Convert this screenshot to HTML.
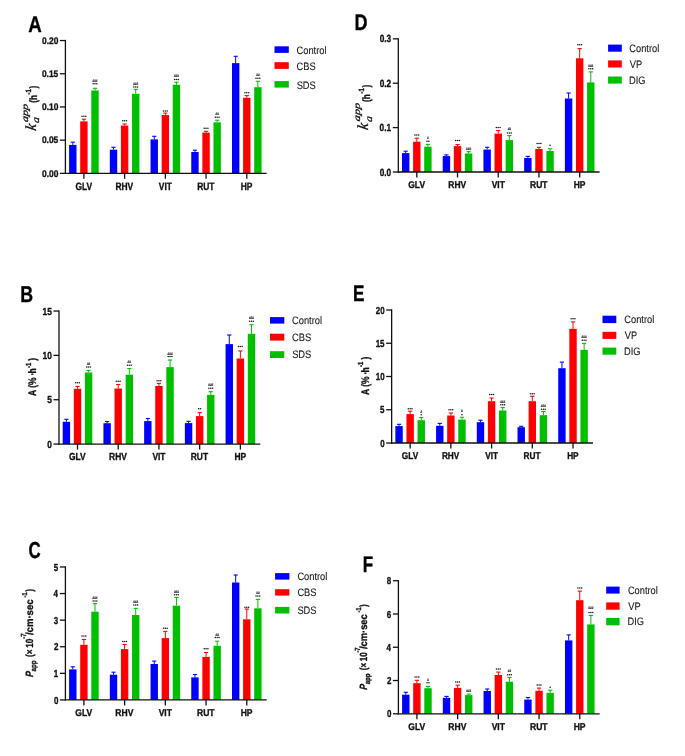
<!DOCTYPE html>
<html><head><meta charset="utf-8"><title>Figure</title><style>html,body{margin:0;padding:0;background:#fff;}body{width:685px;height:756px;overflow:hidden;font-family:"Liberation Sans",sans-serif;}svg{display:block;}</style></head><body>
<svg style="will-change:transform;filter:blur(0.3px)" width="685" height="756" viewBox="0 0 685 756"><rect width="685" height="756" fill="#fff"/>
<text transform="translate(28.28 31.85) scale(0.83 1)" font-family='"Liberation Sans", sans-serif' font-size="22.55" font-weight="bold" font-style="normal" fill="#000" stroke="#000" stroke-width="0.35" stroke-linejoin="round" text-rendering="geometricPrecision">A</text>
<rect x="69.1" y="144.9" width="7.4" height="28.45" fill="#0000ff"/>
<line x1="72.8" y1="144.9" x2="72.8" y2="142.2" stroke="#0000ff" stroke-width="1"/>
<line x1="70.7" y1="142.2" x2="74.9" y2="142.2" stroke="#0000ff" stroke-width="1.1"/>
<rect x="80.2" y="121.4" width="7.4" height="51.95" fill="#ff0000"/>
<line x1="83.9" y1="121.4" x2="83.9" y2="119.2" stroke="#ff0000" stroke-width="1"/>
<line x1="81.8" y1="119.2" x2="86" y2="119.2" stroke="#ff0000" stroke-width="1.1"/>
<ellipse cx="82.05" cy="116.25" rx="0.8" ry="0.75" fill="#1a1a1a"/>
<ellipse cx="83.9" cy="116.25" rx="0.8" ry="0.75" fill="#1a1a1a"/>
<ellipse cx="85.75" cy="116.25" rx="0.8" ry="0.75" fill="#1a1a1a"/>
<rect x="91.3" y="90.5" width="7.4" height="82.85" fill="#00bf00"/>
<line x1="95" y1="90.5" x2="95" y2="88.3" stroke="#00bf00" stroke-width="1"/>
<line x1="92.9" y1="88.3" x2="97.1" y2="88.3" stroke="#00bf00" stroke-width="1.1"/>
<ellipse cx="93.15" cy="83.75" rx="0.8" ry="0.75" fill="#1a1a1a"/>
<ellipse cx="95" cy="83.75" rx="0.8" ry="0.75" fill="#1a1a1a"/>
<ellipse cx="96.85" cy="83.75" rx="0.8" ry="0.75" fill="#1a1a1a"/>
<text transform="translate(92.44 81.52) scale(0.85 1)" font-family='"Liberation Sans", sans-serif' font-size="3.6" font-weight="bold" font-style="normal" fill="#3a3a3a" stroke="#3a3a3a" stroke-width="0.2" text-rendering="geometricPrecision">###</text>
<rect x="109.82" y="149.7" width="7.4" height="23.65" fill="#0000ff"/>
<line x1="113.52" y1="149.7" x2="113.52" y2="147.3" stroke="#0000ff" stroke-width="1"/>
<line x1="111.42" y1="147.3" x2="115.62" y2="147.3" stroke="#0000ff" stroke-width="1.1"/>
<rect x="120.92" y="125.6" width="7.4" height="47.75" fill="#ff0000"/>
<line x1="124.62" y1="125.6" x2="124.62" y2="124" stroke="#ff0000" stroke-width="1"/>
<line x1="122.52" y1="124" x2="126.72" y2="124" stroke="#ff0000" stroke-width="1.1"/>
<ellipse cx="122.77" cy="120.85" rx="0.8" ry="0.75" fill="#1a1a1a"/>
<ellipse cx="124.62" cy="120.85" rx="0.8" ry="0.75" fill="#1a1a1a"/>
<ellipse cx="126.47" cy="120.85" rx="0.8" ry="0.75" fill="#1a1a1a"/>
<rect x="132.02" y="93.8" width="7.4" height="79.55" fill="#00bf00"/>
<line x1="135.72" y1="93.8" x2="135.72" y2="89.4" stroke="#00bf00" stroke-width="1"/>
<line x1="133.62" y1="89.4" x2="137.82" y2="89.4" stroke="#00bf00" stroke-width="1.1"/>
<ellipse cx="133.87" cy="86.95" rx="0.8" ry="0.75" fill="#1a1a1a"/>
<ellipse cx="135.72" cy="86.95" rx="0.8" ry="0.75" fill="#1a1a1a"/>
<ellipse cx="137.57" cy="86.95" rx="0.8" ry="0.75" fill="#1a1a1a"/>
<text transform="translate(133.16 85.02) scale(0.85 1)" font-family='"Liberation Sans", sans-serif' font-size="3.6" font-weight="bold" font-style="normal" fill="#3a3a3a" stroke="#3a3a3a" stroke-width="0.2" text-rendering="geometricPrecision">###</text>
<rect x="150.54" y="139.4" width="7.4" height="33.95" fill="#0000ff"/>
<line x1="154.24" y1="139.4" x2="154.24" y2="136.3" stroke="#0000ff" stroke-width="1"/>
<line x1="152.14" y1="136.3" x2="156.34" y2="136.3" stroke="#0000ff" stroke-width="1.1"/>
<rect x="161.64" y="115" width="7.4" height="58.35" fill="#ff0000"/>
<line x1="165.34" y1="115" x2="165.34" y2="113.1" stroke="#ff0000" stroke-width="1"/>
<line x1="163.24" y1="113.1" x2="167.44" y2="113.1" stroke="#ff0000" stroke-width="1.1"/>
<ellipse cx="163.49" cy="110.95" rx="0.8" ry="0.75" fill="#1a1a1a"/>
<ellipse cx="165.34" cy="110.95" rx="0.8" ry="0.75" fill="#1a1a1a"/>
<ellipse cx="167.19" cy="110.95" rx="0.8" ry="0.75" fill="#1a1a1a"/>
<rect x="172.74" y="84.8" width="7.4" height="88.55" fill="#00bf00"/>
<line x1="176.44" y1="84.8" x2="176.44" y2="82.2" stroke="#00bf00" stroke-width="1"/>
<line x1="174.34" y1="82.2" x2="178.54" y2="82.2" stroke="#00bf00" stroke-width="1.1"/>
<ellipse cx="174.59" cy="79.55" rx="0.8" ry="0.75" fill="#1a1a1a"/>
<ellipse cx="176.44" cy="79.55" rx="0.8" ry="0.75" fill="#1a1a1a"/>
<ellipse cx="178.29" cy="79.55" rx="0.8" ry="0.75" fill="#1a1a1a"/>
<text transform="translate(173.88 76.82) scale(0.85 1)" font-family='"Liberation Sans", sans-serif' font-size="3.6" font-weight="bold" font-style="normal" fill="#3a3a3a" stroke="#3a3a3a" stroke-width="0.2" text-rendering="geometricPrecision">###</text>
<rect x="191.26" y="152" width="7.4" height="21.35" fill="#0000ff"/>
<line x1="194.96" y1="152" x2="194.96" y2="150.2" stroke="#0000ff" stroke-width="1"/>
<line x1="192.86" y1="150.2" x2="197.06" y2="150.2" stroke="#0000ff" stroke-width="1.1"/>
<rect x="202.36" y="132.6" width="7.4" height="40.75" fill="#ff0000"/>
<line x1="206.06" y1="132.6" x2="206.06" y2="131.3" stroke="#ff0000" stroke-width="1"/>
<line x1="203.96" y1="131.3" x2="208.16" y2="131.3" stroke="#ff0000" stroke-width="1.1"/>
<ellipse cx="204.21" cy="128.25" rx="0.8" ry="0.75" fill="#1a1a1a"/>
<ellipse cx="206.06" cy="128.25" rx="0.8" ry="0.75" fill="#1a1a1a"/>
<ellipse cx="207.91" cy="128.25" rx="0.8" ry="0.75" fill="#1a1a1a"/>
<rect x="213.46" y="122.4" width="7.4" height="50.95" fill="#00bf00"/>
<line x1="217.16" y1="122.4" x2="217.16" y2="120.2" stroke="#00bf00" stroke-width="1"/>
<line x1="215.06" y1="120.2" x2="219.26" y2="120.2" stroke="#00bf00" stroke-width="1.1"/>
<ellipse cx="215.31" cy="117.15" rx="0.8" ry="0.75" fill="#1a1a1a"/>
<ellipse cx="217.16" cy="117.15" rx="0.8" ry="0.75" fill="#1a1a1a"/>
<ellipse cx="219.01" cy="117.15" rx="0.8" ry="0.75" fill="#1a1a1a"/>
<text transform="translate(215.46 115.12) scale(0.85 1)" font-family='"Liberation Sans", sans-serif' font-size="3.6" font-weight="bold" font-style="normal" fill="#3a3a3a" stroke="#3a3a3a" stroke-width="0.2" text-rendering="geometricPrecision">##</text>
<rect x="231.98" y="63.1" width="7.4" height="110.25" fill="#0000ff"/>
<line x1="235.68" y1="63.1" x2="235.68" y2="56.3" stroke="#0000ff" stroke-width="1"/>
<line x1="233.58" y1="56.3" x2="237.78" y2="56.3" stroke="#0000ff" stroke-width="1.1"/>
<rect x="243.08" y="97.8" width="7.4" height="75.55" fill="#ff0000"/>
<line x1="246.78" y1="97.8" x2="246.78" y2="95.6" stroke="#ff0000" stroke-width="1"/>
<line x1="244.68" y1="95.6" x2="248.88" y2="95.6" stroke="#ff0000" stroke-width="1.1"/>
<ellipse cx="244.93" cy="92.65" rx="0.8" ry="0.75" fill="#1a1a1a"/>
<ellipse cx="246.78" cy="92.65" rx="0.8" ry="0.75" fill="#1a1a1a"/>
<ellipse cx="248.63" cy="92.65" rx="0.8" ry="0.75" fill="#1a1a1a"/>
<rect x="254.18" y="87.2" width="7.4" height="86.15" fill="#00bf00"/>
<line x1="257.88" y1="87.2" x2="257.88" y2="81.3" stroke="#00bf00" stroke-width="1"/>
<line x1="255.78" y1="81.3" x2="259.98" y2="81.3" stroke="#00bf00" stroke-width="1.1"/>
<ellipse cx="256.03" cy="78.25" rx="0.8" ry="0.75" fill="#1a1a1a"/>
<ellipse cx="257.88" cy="78.25" rx="0.8" ry="0.75" fill="#1a1a1a"/>
<ellipse cx="259.73" cy="78.25" rx="0.8" ry="0.75" fill="#1a1a1a"/>
<text transform="translate(256.18 76.32) scale(0.85 1)" font-family='"Liberation Sans", sans-serif' font-size="3.6" font-weight="bold" font-style="normal" fill="#3a3a3a" stroke="#3a3a3a" stroke-width="0.2" text-rendering="geometricPrecision">##</text>
<line x1="65.4" y1="39.89" x2="65.4" y2="174" stroke="#111111" stroke-width="1.3"/>
<line x1="64.75" y1="173.35" x2="266.7" y2="173.35" stroke="#111111" stroke-width="1.3"/>
<line x1="59.9" y1="173.35" x2="65.4" y2="173.35" stroke="#111111" stroke-width="1.3"/>
<text transform="translate(41.99 176.69) scale(0.88 1)" font-family='"Liberation Sans", sans-serif' font-size="9.55" font-weight="bold" font-style="normal" fill="#111111" stroke="#111111" stroke-width="0.35" stroke-linejoin="round" text-rendering="geometricPrecision">0.00</text>
<line x1="59.9" y1="140.15" x2="65.4" y2="140.15" stroke="#111111" stroke-width="1.3"/>
<text transform="translate(41.89 143.49) scale(0.88 1)" font-family='"Liberation Sans", sans-serif' font-size="9.55" font-weight="bold" font-style="normal" fill="#111111" stroke="#111111" stroke-width="0.35" stroke-linejoin="round" text-rendering="geometricPrecision">0.05</text>
<line x1="59.9" y1="106.94" x2="65.4" y2="106.94" stroke="#111111" stroke-width="1.3"/>
<text transform="translate(41.99 110.29) scale(0.88 1)" font-family='"Liberation Sans", sans-serif' font-size="9.55" font-weight="bold" font-style="normal" fill="#111111" stroke="#111111" stroke-width="0.35" stroke-linejoin="round" text-rendering="geometricPrecision">0.10</text>
<line x1="59.9" y1="73.74" x2="65.4" y2="73.74" stroke="#111111" stroke-width="1.3"/>
<text transform="translate(41.89 77.08) scale(0.88 1)" font-family='"Liberation Sans", sans-serif' font-size="9.55" font-weight="bold" font-style="normal" fill="#111111" stroke="#111111" stroke-width="0.35" stroke-linejoin="round" text-rendering="geometricPrecision">0.15</text>
<line x1="59.9" y1="40.54" x2="65.4" y2="40.54" stroke="#111111" stroke-width="1.3"/>
<text transform="translate(41.99 43.88) scale(0.88 1)" font-family='"Liberation Sans", sans-serif' font-size="9.55" font-weight="bold" font-style="normal" fill="#111111" stroke="#111111" stroke-width="0.35" stroke-linejoin="round" text-rendering="geometricPrecision">0.20</text>
<line x1="83.9" y1="173.35" x2="83.9" y2="178.85" stroke="#111111" stroke-width="1.3"/>
<text transform="translate(75.39 189.67) scale(0.79 1)" font-family='"Liberation Sans", sans-serif' font-size="10.67" font-weight="bold" font-style="normal" fill="#111111" stroke="#111111" stroke-width="0.35" stroke-linejoin="round" text-rendering="geometricPrecision">GLV</text>
<line x1="124.62" y1="173.35" x2="124.62" y2="178.85" stroke="#111111" stroke-width="1.3"/>
<text transform="translate(115.44 189.67) scale(0.79 1)" font-family='"Liberation Sans", sans-serif' font-size="10.67" font-weight="bold" font-style="normal" fill="#111111" stroke="#111111" stroke-width="0.35" stroke-linejoin="round" text-rendering="geometricPrecision">RHV</text>
<line x1="165.34" y1="173.35" x2="165.34" y2="178.85" stroke="#111111" stroke-width="1.3"/>
<text transform="translate(158.78 189.67) scale(0.79 1)" font-family='"Liberation Sans", sans-serif' font-size="10.67" font-weight="bold" font-style="normal" fill="#111111" stroke="#111111" stroke-width="0.35" stroke-linejoin="round" text-rendering="geometricPrecision">VIT</text>
<line x1="206.06" y1="173.35" x2="206.06" y2="178.85" stroke="#111111" stroke-width="1.3"/>
<text transform="translate(197.13 189.67) scale(0.79 1)" font-family='"Liberation Sans", sans-serif' font-size="10.67" font-weight="bold" font-style="normal" fill="#111111" stroke="#111111" stroke-width="0.35" stroke-linejoin="round" text-rendering="geometricPrecision">RUT</text>
<line x1="246.78" y1="173.35" x2="246.78" y2="178.85" stroke="#111111" stroke-width="1.3"/>
<text transform="translate(240.77 189.67) scale(0.79 1)" font-family='"Liberation Sans", sans-serif' font-size="10.67" font-weight="bold" font-style="normal" fill="#111111" stroke="#111111" stroke-width="0.35" stroke-linejoin="round" text-rendering="geometricPrecision">HP</text>
<rect x="274.5" y="46.3" width="14.3" height="6.6" fill="#0000ff"/>
<text transform="translate(296.59 53.79) scale(0.86 1)" font-family='"Liberation Sans", sans-serif' font-size="10.8" font-weight="normal" font-style="normal" fill="#1a1a1a" stroke="#1a1a1a" stroke-width="0.12" text-rendering="geometricPrecision">Control</text>
<rect x="274.5" y="62.2" width="14.3" height="6.7" fill="#ff0000"/>
<text transform="translate(296.59 69.74) scale(0.86 1)" font-family='"Liberation Sans", sans-serif' font-size="10.8" font-weight="normal" font-style="normal" fill="#1a1a1a" stroke="#1a1a1a" stroke-width="0.12" text-rendering="geometricPrecision">CBS</text>
<rect x="274.5" y="81.1" width="14.3" height="6.5" fill="#00bf00"/>
<text transform="translate(296.63 88.54) scale(0.86 1)" font-family='"Liberation Sans", sans-serif' font-size="10.8" font-weight="normal" font-style="normal" fill="#1a1a1a" stroke="#1a1a1a" stroke-width="0.12" text-rendering="geometricPrecision">SDS</text>
<g><text transform="translate(35.7 131.36) rotate(-90) skewX(-10)" font-family='"Liberation Serif", serif' font-size="15.3" font-weight="normal" font-style="italic" fill="#111111" stroke="#111111" stroke-width="0.3" text-rendering="geometricPrecision">k</text>
<text transform="translate(38.9 123.15) rotate(-90) scale(1.2 1) skewX(-8)" font-family='"Liberation Serif", serif' font-size="9.6" font-weight="normal" font-style="italic" fill="#111111" stroke="#111111" stroke-width="0.3" text-rendering="geometricPrecision">a</text>
<text transform="translate(27.6 122.56) rotate(-90) scale(1.32 1) skewX(-8)" font-family='"Liberation Serif", serif' font-size="9.2" font-weight="normal" font-style="italic" fill="#111111" stroke="#111111" stroke-width="0.3" text-rendering="geometricPrecision">app</text>
<text transform="translate(36.9 102.81) rotate(-90) scale(0.75 1)" font-family='"Liberation Sans", sans-serif' font-size="10.8" font-weight="bold" font-style="normal" fill="#111111" stroke="#111111" stroke-width="0.35" stroke-linejoin="round" text-rendering="geometricPrecision">(h</text>
<text transform="translate(30.9 94.44) rotate(-90) scale(0.8 1)" font-family='"Liberation Sans", sans-serif' font-size="7.6" font-weight="bold" font-style="normal" fill="#111111" stroke="#111111" stroke-width="0.35" stroke-linejoin="round" text-rendering="geometricPrecision">-1</text>
<text transform="translate(36.9 88.42) rotate(-90) scale(0.75 1)" font-family='"Liberation Sans", sans-serif' font-size="10.8" font-weight="bold" font-style="normal" fill="#111111" stroke="#111111" stroke-width="0.35" stroke-linejoin="round" text-rendering="geometricPrecision">)</text></g>
<text transform="translate(20.24 302.31) scale(0.78 1)" font-family='"Liberation Sans", sans-serif' font-size="22.85" font-weight="bold" font-style="normal" fill="#000" stroke="#000" stroke-width="0.35" stroke-linejoin="round" text-rendering="geometricPrecision">B</text>
<rect x="62.7" y="421.8" width="7.4" height="22.25" fill="#0000ff"/>
<line x1="66.4" y1="421.8" x2="66.4" y2="419.3" stroke="#0000ff" stroke-width="1"/>
<line x1="64.3" y1="419.3" x2="68.5" y2="419.3" stroke="#0000ff" stroke-width="1.1"/>
<rect x="73.8" y="388.8" width="7.4" height="55.25" fill="#ff0000"/>
<line x1="77.5" y1="388.8" x2="77.5" y2="386.4" stroke="#ff0000" stroke-width="1"/>
<line x1="75.4" y1="386.4" x2="79.6" y2="386.4" stroke="#ff0000" stroke-width="1.1"/>
<ellipse cx="75.65" cy="382.75" rx="0.8" ry="0.75" fill="#1a1a1a"/>
<ellipse cx="77.5" cy="382.75" rx="0.8" ry="0.75" fill="#1a1a1a"/>
<ellipse cx="79.35" cy="382.75" rx="0.8" ry="0.75" fill="#1a1a1a"/>
<rect x="84.9" y="372.5" width="7.4" height="71.55" fill="#00bf00"/>
<line x1="88.6" y1="372.5" x2="88.6" y2="370.4" stroke="#00bf00" stroke-width="1"/>
<line x1="86.5" y1="370.4" x2="90.7" y2="370.4" stroke="#00bf00" stroke-width="1.1"/>
<ellipse cx="86.75" cy="367.05" rx="0.8" ry="0.75" fill="#1a1a1a"/>
<ellipse cx="88.6" cy="367.05" rx="0.8" ry="0.75" fill="#1a1a1a"/>
<ellipse cx="90.45" cy="367.05" rx="0.8" ry="0.75" fill="#1a1a1a"/>
<text transform="translate(86.9 364.72) scale(0.85 1)" font-family='"Liberation Sans", sans-serif' font-size="3.6" font-weight="bold" font-style="normal" fill="#3a3a3a" stroke="#3a3a3a" stroke-width="0.2" text-rendering="geometricPrecision">##</text>
<rect x="103.42" y="423.2" width="7.4" height="20.85" fill="#0000ff"/>
<line x1="107.12" y1="423.2" x2="107.12" y2="421.5" stroke="#0000ff" stroke-width="1"/>
<line x1="105.02" y1="421.5" x2="109.22" y2="421.5" stroke="#0000ff" stroke-width="1.1"/>
<rect x="114.52" y="388.5" width="7.4" height="55.55" fill="#ff0000"/>
<line x1="118.22" y1="388.5" x2="118.22" y2="384.5" stroke="#ff0000" stroke-width="1"/>
<line x1="116.12" y1="384.5" x2="120.32" y2="384.5" stroke="#ff0000" stroke-width="1.1"/>
<ellipse cx="116.37" cy="381.35" rx="0.8" ry="0.75" fill="#1a1a1a"/>
<ellipse cx="118.22" cy="381.35" rx="0.8" ry="0.75" fill="#1a1a1a"/>
<ellipse cx="120.07" cy="381.35" rx="0.8" ry="0.75" fill="#1a1a1a"/>
<rect x="125.62" y="374.7" width="7.4" height="69.35" fill="#00bf00"/>
<line x1="129.32" y1="374.7" x2="129.32" y2="368.5" stroke="#00bf00" stroke-width="1"/>
<line x1="127.22" y1="368.5" x2="131.42" y2="368.5" stroke="#00bf00" stroke-width="1.1"/>
<ellipse cx="127.47" cy="365.35" rx="0.8" ry="0.75" fill="#1a1a1a"/>
<ellipse cx="129.32" cy="365.35" rx="0.8" ry="0.75" fill="#1a1a1a"/>
<ellipse cx="131.17" cy="365.35" rx="0.8" ry="0.75" fill="#1a1a1a"/>
<text transform="translate(127.62 363.32) scale(0.85 1)" font-family='"Liberation Sans", sans-serif' font-size="3.6" font-weight="bold" font-style="normal" fill="#3a3a3a" stroke="#3a3a3a" stroke-width="0.2" text-rendering="geometricPrecision">##</text>
<rect x="144.14" y="421.1" width="7.4" height="22.95" fill="#0000ff"/>
<line x1="147.84" y1="421.1" x2="147.84" y2="418.5" stroke="#0000ff" stroke-width="1"/>
<line x1="145.74" y1="418.5" x2="149.94" y2="418.5" stroke="#0000ff" stroke-width="1.1"/>
<rect x="155.24" y="386" width="7.4" height="58.05" fill="#ff0000"/>
<line x1="158.94" y1="386" x2="158.94" y2="383.4" stroke="#ff0000" stroke-width="1"/>
<line x1="156.84" y1="383.4" x2="161.04" y2="383.4" stroke="#ff0000" stroke-width="1.1"/>
<ellipse cx="157.09" cy="380.65" rx="0.8" ry="0.75" fill="#1a1a1a"/>
<ellipse cx="158.94" cy="380.65" rx="0.8" ry="0.75" fill="#1a1a1a"/>
<ellipse cx="160.79" cy="380.65" rx="0.8" ry="0.75" fill="#1a1a1a"/>
<rect x="166.34" y="367.1" width="7.4" height="76.95" fill="#00bf00"/>
<line x1="170.04" y1="367.1" x2="170.04" y2="360" stroke="#00bf00" stroke-width="1"/>
<line x1="167.94" y1="360" x2="172.14" y2="360" stroke="#00bf00" stroke-width="1.1"/>
<ellipse cx="168.19" cy="356.45" rx="0.8" ry="0.75" fill="#1a1a1a"/>
<ellipse cx="170.04" cy="356.45" rx="0.8" ry="0.75" fill="#1a1a1a"/>
<ellipse cx="171.89" cy="356.45" rx="0.8" ry="0.75" fill="#1a1a1a"/>
<text transform="translate(167.48 354.62) scale(0.85 1)" font-family='"Liberation Sans", sans-serif' font-size="3.6" font-weight="bold" font-style="normal" fill="#3a3a3a" stroke="#3a3a3a" stroke-width="0.2" text-rendering="geometricPrecision">###</text>
<rect x="184.86" y="423.1" width="7.4" height="20.95" fill="#0000ff"/>
<line x1="188.56" y1="423.1" x2="188.56" y2="421.3" stroke="#0000ff" stroke-width="1"/>
<line x1="186.46" y1="421.3" x2="190.66" y2="421.3" stroke="#0000ff" stroke-width="1.1"/>
<rect x="195.96" y="416.1" width="7.4" height="27.95" fill="#ff0000"/>
<line x1="199.66" y1="416.1" x2="199.66" y2="412.6" stroke="#ff0000" stroke-width="1"/>
<line x1="197.56" y1="412.6" x2="201.76" y2="412.6" stroke="#ff0000" stroke-width="1.1"/>
<ellipse cx="198.73" cy="408.85" rx="0.8" ry="0.75" fill="#1a1a1a"/>
<ellipse cx="200.59" cy="408.85" rx="0.8" ry="0.75" fill="#1a1a1a"/>
<rect x="207.06" y="394.9" width="7.4" height="49.15" fill="#00bf00"/>
<line x1="210.76" y1="394.9" x2="210.76" y2="391.7" stroke="#00bf00" stroke-width="1"/>
<line x1="208.66" y1="391.7" x2="212.86" y2="391.7" stroke="#00bf00" stroke-width="1.1"/>
<ellipse cx="208.91" cy="388.25" rx="0.8" ry="0.75" fill="#1a1a1a"/>
<ellipse cx="210.76" cy="388.25" rx="0.8" ry="0.75" fill="#1a1a1a"/>
<ellipse cx="212.61" cy="388.25" rx="0.8" ry="0.75" fill="#1a1a1a"/>
<text transform="translate(208.2 386.42) scale(0.85 1)" font-family='"Liberation Sans", sans-serif' font-size="3.6" font-weight="bold" font-style="normal" fill="#3a3a3a" stroke="#3a3a3a" stroke-width="0.2" text-rendering="geometricPrecision">###</text>
<rect x="225.58" y="344.1" width="7.4" height="99.95" fill="#0000ff"/>
<line x1="229.28" y1="344.1" x2="229.28" y2="335" stroke="#0000ff" stroke-width="1"/>
<line x1="227.18" y1="335" x2="231.38" y2="335" stroke="#0000ff" stroke-width="1.1"/>
<rect x="236.68" y="358.5" width="7.4" height="85.55" fill="#ff0000"/>
<line x1="240.38" y1="358.5" x2="240.38" y2="351" stroke="#ff0000" stroke-width="1"/>
<line x1="238.28" y1="351" x2="242.48" y2="351" stroke="#ff0000" stroke-width="1.1"/>
<ellipse cx="238.53" cy="346.55" rx="0.8" ry="0.75" fill="#1a1a1a"/>
<ellipse cx="240.38" cy="346.55" rx="0.8" ry="0.75" fill="#1a1a1a"/>
<ellipse cx="242.23" cy="346.55" rx="0.8" ry="0.75" fill="#1a1a1a"/>
<rect x="247.78" y="333.8" width="7.4" height="110.25" fill="#00bf00"/>
<line x1="251.48" y1="333.8" x2="251.48" y2="324.7" stroke="#00bf00" stroke-width="1"/>
<line x1="249.38" y1="324.7" x2="253.58" y2="324.7" stroke="#00bf00" stroke-width="1.1"/>
<ellipse cx="249.63" cy="321.25" rx="0.8" ry="0.75" fill="#1a1a1a"/>
<ellipse cx="251.48" cy="321.25" rx="0.8" ry="0.75" fill="#1a1a1a"/>
<ellipse cx="253.33" cy="321.25" rx="0.8" ry="0.75" fill="#1a1a1a"/>
<text transform="translate(248.92 318.92) scale(0.85 1)" font-family='"Liberation Sans", sans-serif' font-size="3.6" font-weight="bold" font-style="normal" fill="#3a3a3a" stroke="#3a3a3a" stroke-width="0.2" text-rendering="geometricPrecision">###</text>
<line x1="59" y1="310.4" x2="59" y2="444.7" stroke="#111111" stroke-width="1.3"/>
<line x1="58.35" y1="444.05" x2="260.3" y2="444.05" stroke="#111111" stroke-width="1.3"/>
<line x1="53.5" y1="444.05" x2="59" y2="444.05" stroke="#111111" stroke-width="1.3"/>
<text transform="translate(47.27 447.64) scale(0.82 1)" font-family='"Liberation Sans", sans-serif' font-size="10.25" font-weight="bold" font-style="normal" fill="#111111" stroke="#111111" stroke-width="0.35" stroke-linejoin="round" text-rendering="geometricPrecision">0</text>
<line x1="53.5" y1="399.72" x2="59" y2="399.72" stroke="#111111" stroke-width="1.3"/>
<text transform="translate(47.17 403.3) scale(0.82 1)" font-family='"Liberation Sans", sans-serif' font-size="10.25" font-weight="bold" font-style="normal" fill="#111111" stroke="#111111" stroke-width="0.35" stroke-linejoin="round" text-rendering="geometricPrecision">5</text>
<line x1="53.5" y1="355.38" x2="59" y2="355.38" stroke="#111111" stroke-width="1.3"/>
<text transform="translate(42.61 358.97) scale(0.82 1)" font-family='"Liberation Sans", sans-serif' font-size="10.25" font-weight="bold" font-style="normal" fill="#111111" stroke="#111111" stroke-width="0.35" stroke-linejoin="round" text-rendering="geometricPrecision">10</text>
<line x1="53.5" y1="311.05" x2="59" y2="311.05" stroke="#111111" stroke-width="1.3"/>
<text transform="translate(42.5 314.64) scale(0.82 1)" font-family='"Liberation Sans", sans-serif' font-size="10.25" font-weight="bold" font-style="normal" fill="#111111" stroke="#111111" stroke-width="0.35" stroke-linejoin="round" text-rendering="geometricPrecision">15</text>
<line x1="77.5" y1="444.05" x2="77.5" y2="449.55" stroke="#111111" stroke-width="1.3"/>
<text transform="translate(69.01 460.23) scale(0.82 1)" font-family='"Liberation Sans", sans-serif' font-size="10.25" font-weight="bold" font-style="normal" fill="#111111" stroke="#111111" stroke-width="0.35" stroke-linejoin="round" text-rendering="geometricPrecision">GLV</text>
<line x1="118.22" y1="444.05" x2="118.22" y2="449.55" stroke="#111111" stroke-width="1.3"/>
<text transform="translate(109.07 460.23) scale(0.82 1)" font-family='"Liberation Sans", sans-serif' font-size="10.25" font-weight="bold" font-style="normal" fill="#111111" stroke="#111111" stroke-width="0.35" stroke-linejoin="round" text-rendering="geometricPrecision">RHV</text>
<line x1="158.94" y1="444.05" x2="158.94" y2="449.55" stroke="#111111" stroke-width="1.3"/>
<text transform="translate(152.4 460.23) scale(0.82 1)" font-family='"Liberation Sans", sans-serif' font-size="10.25" font-weight="bold" font-style="normal" fill="#111111" stroke="#111111" stroke-width="0.35" stroke-linejoin="round" text-rendering="geometricPrecision">VIT</text>
<line x1="199.66" y1="444.05" x2="199.66" y2="449.55" stroke="#111111" stroke-width="1.3"/>
<text transform="translate(190.76 460.23) scale(0.82 1)" font-family='"Liberation Sans", sans-serif' font-size="10.25" font-weight="bold" font-style="normal" fill="#111111" stroke="#111111" stroke-width="0.35" stroke-linejoin="round" text-rendering="geometricPrecision">RUT</text>
<line x1="240.38" y1="444.05" x2="240.38" y2="449.55" stroke="#111111" stroke-width="1.3"/>
<text transform="translate(234.39 460.23) scale(0.82 1)" font-family='"Liberation Sans", sans-serif' font-size="10.25" font-weight="bold" font-style="normal" fill="#111111" stroke="#111111" stroke-width="0.35" stroke-linejoin="round" text-rendering="geometricPrecision">HP</text>
<rect x="270" y="317.1" width="14.3" height="6.5" fill="#0000ff"/>
<text transform="translate(292.09 323.94) scale(0.86 1)" font-family='"Liberation Sans", sans-serif' font-size="10.8" font-weight="normal" font-style="normal" fill="#1a1a1a" stroke="#1a1a1a" stroke-width="0.12" text-rendering="geometricPrecision">Control</text>
<rect x="270" y="333.7" width="14.3" height="6.9" fill="#ff0000"/>
<text transform="translate(292.09 340.74) scale(0.86 1)" font-family='"Liberation Sans", sans-serif' font-size="10.8" font-weight="normal" font-style="normal" fill="#1a1a1a" stroke="#1a1a1a" stroke-width="0.12" text-rendering="geometricPrecision">CBS</text>
<rect x="270" y="351.2" width="14.3" height="6.8" fill="#00bf00"/>
<text transform="translate(292.13 358.19) scale(0.86 1)" font-family='"Liberation Sans", sans-serif' font-size="10.8" font-weight="normal" font-style="normal" fill="#1a1a1a" stroke="#1a1a1a" stroke-width="0.12" text-rendering="geometricPrecision">SDS</text>
<g><text transform="translate(36 396.01) rotate(-90) scale(0.78 1)" font-family='"Liberation Sans", sans-serif' font-size="10.9" font-weight="bold" font-style="normal" fill="#111111" stroke="#111111" stroke-width="0.35" stroke-linejoin="round" text-rendering="geometricPrecision">A (%</text>
<text transform="translate(36 375.5) rotate(-90) scale(0.78 1)" font-family='"Liberation Sans", sans-serif' font-size="10.9" font-weight="bold" font-style="normal" fill="#111111" stroke="#111111" stroke-width="0.35" stroke-linejoin="round" text-rendering="geometricPrecision">·</text>
<text transform="translate(36 373.5) rotate(-90) scale(0.78 1)" font-family='"Liberation Sans", sans-serif' font-size="10.9" font-weight="bold" font-style="normal" fill="#111111" stroke="#111111" stroke-width="0.35" stroke-linejoin="round" text-rendering="geometricPrecision">h</text>
<text transform="translate(30.6 368.04) rotate(-90) scale(0.8 1)" font-family='"Liberation Sans", sans-serif' font-size="7.4" font-weight="bold" font-style="normal" fill="#111111" stroke="#111111" stroke-width="0.35" stroke-linejoin="round" text-rendering="geometricPrecision">-1</text>
<text transform="translate(36 360.72) rotate(-90) scale(0.78 1)" font-family='"Liberation Sans", sans-serif' font-size="10.9" font-weight="bold" font-style="normal" fill="#111111" stroke="#111111" stroke-width="0.35" stroke-linejoin="round" text-rendering="geometricPrecision">)</text></g>
<text transform="translate(28.57 558.17) scale(0.73 1)" font-family='"Liberation Sans", sans-serif' font-size="23.11" font-weight="bold" font-style="normal" fill="#000" stroke="#000" stroke-width="0.35" stroke-linejoin="round" text-rendering="geometricPrecision">C</text>
<rect x="69.1" y="669.4" width="7.4" height="30.53" fill="#0000ff"/>
<line x1="72.8" y1="669.4" x2="72.8" y2="666.8" stroke="#0000ff" stroke-width="1"/>
<line x1="70.7" y1="666.8" x2="74.9" y2="666.8" stroke="#0000ff" stroke-width="1.1"/>
<rect x="80.2" y="644.8" width="7.4" height="55.13" fill="#ff0000"/>
<line x1="83.9" y1="644.8" x2="83.9" y2="639.5" stroke="#ff0000" stroke-width="1"/>
<line x1="81.8" y1="639.5" x2="86" y2="639.5" stroke="#ff0000" stroke-width="1.1"/>
<ellipse cx="82.05" cy="635.95" rx="0.8" ry="0.75" fill="#1a1a1a"/>
<ellipse cx="83.9" cy="635.95" rx="0.8" ry="0.75" fill="#1a1a1a"/>
<ellipse cx="85.75" cy="635.95" rx="0.8" ry="0.75" fill="#1a1a1a"/>
<rect x="91.3" y="611.7" width="7.4" height="88.23" fill="#00bf00"/>
<line x1="95" y1="611.7" x2="95" y2="603.6" stroke="#00bf00" stroke-width="1"/>
<line x1="92.9" y1="603.6" x2="97.1" y2="603.6" stroke="#00bf00" stroke-width="1.1"/>
<ellipse cx="93.15" cy="600.95" rx="0.8" ry="0.75" fill="#1a1a1a"/>
<ellipse cx="95" cy="600.95" rx="0.8" ry="0.75" fill="#1a1a1a"/>
<ellipse cx="96.85" cy="600.95" rx="0.8" ry="0.75" fill="#1a1a1a"/>
<text transform="translate(92.44 598.52) scale(0.85 1)" font-family='"Liberation Sans", sans-serif' font-size="3.6" font-weight="bold" font-style="normal" fill="#3a3a3a" stroke="#3a3a3a" stroke-width="0.2" text-rendering="geometricPrecision">###</text>
<rect x="109.82" y="674.7" width="7.4" height="25.23" fill="#0000ff"/>
<line x1="113.52" y1="674.7" x2="113.52" y2="672.2" stroke="#0000ff" stroke-width="1"/>
<line x1="111.42" y1="672.2" x2="115.62" y2="672.2" stroke="#0000ff" stroke-width="1.1"/>
<rect x="120.92" y="649.1" width="7.4" height="50.83" fill="#ff0000"/>
<line x1="124.62" y1="649.1" x2="124.62" y2="644.5" stroke="#ff0000" stroke-width="1"/>
<line x1="122.52" y1="644.5" x2="126.72" y2="644.5" stroke="#ff0000" stroke-width="1.1"/>
<ellipse cx="122.77" cy="641.45" rx="0.8" ry="0.75" fill="#1a1a1a"/>
<ellipse cx="124.62" cy="641.45" rx="0.8" ry="0.75" fill="#1a1a1a"/>
<ellipse cx="126.47" cy="641.45" rx="0.8" ry="0.75" fill="#1a1a1a"/>
<rect x="132.02" y="615" width="7.4" height="84.93" fill="#00bf00"/>
<line x1="135.72" y1="615" x2="135.72" y2="608.4" stroke="#00bf00" stroke-width="1"/>
<line x1="133.62" y1="608.4" x2="137.82" y2="608.4" stroke="#00bf00" stroke-width="1.1"/>
<ellipse cx="133.87" cy="605.05" rx="0.8" ry="0.75" fill="#1a1a1a"/>
<ellipse cx="135.72" cy="605.05" rx="0.8" ry="0.75" fill="#1a1a1a"/>
<ellipse cx="137.57" cy="605.05" rx="0.8" ry="0.75" fill="#1a1a1a"/>
<text transform="translate(133.16 603.22) scale(0.85 1)" font-family='"Liberation Sans", sans-serif' font-size="3.6" font-weight="bold" font-style="normal" fill="#3a3a3a" stroke="#3a3a3a" stroke-width="0.2" text-rendering="geometricPrecision">###</text>
<rect x="150.54" y="664" width="7.4" height="35.93" fill="#0000ff"/>
<line x1="154.24" y1="664" x2="154.24" y2="661.1" stroke="#0000ff" stroke-width="1"/>
<line x1="152.14" y1="661.1" x2="156.34" y2="661.1" stroke="#0000ff" stroke-width="1.1"/>
<rect x="161.64" y="638.1" width="7.4" height="61.83" fill="#ff0000"/>
<line x1="165.34" y1="638.1" x2="165.34" y2="631.4" stroke="#ff0000" stroke-width="1"/>
<line x1="163.24" y1="631.4" x2="167.44" y2="631.4" stroke="#ff0000" stroke-width="1.1"/>
<ellipse cx="163.49" cy="628.35" rx="0.8" ry="0.75" fill="#1a1a1a"/>
<ellipse cx="165.34" cy="628.35" rx="0.8" ry="0.75" fill="#1a1a1a"/>
<ellipse cx="167.19" cy="628.35" rx="0.8" ry="0.75" fill="#1a1a1a"/>
<rect x="172.74" y="605.7" width="7.4" height="94.23" fill="#00bf00"/>
<line x1="176.44" y1="605.7" x2="176.44" y2="597.4" stroke="#00bf00" stroke-width="1"/>
<line x1="174.34" y1="597.4" x2="178.54" y2="597.4" stroke="#00bf00" stroke-width="1.1"/>
<ellipse cx="174.59" cy="594.75" rx="0.8" ry="0.75" fill="#1a1a1a"/>
<ellipse cx="176.44" cy="594.75" rx="0.8" ry="0.75" fill="#1a1a1a"/>
<ellipse cx="178.29" cy="594.75" rx="0.8" ry="0.75" fill="#1a1a1a"/>
<text transform="translate(173.88 592.72) scale(0.85 1)" font-family='"Liberation Sans", sans-serif' font-size="3.6" font-weight="bold" font-style="normal" fill="#3a3a3a" stroke="#3a3a3a" stroke-width="0.2" text-rendering="geometricPrecision">###</text>
<rect x="191.26" y="677.4" width="7.4" height="22.53" fill="#0000ff"/>
<line x1="194.96" y1="677.4" x2="194.96" y2="674.5" stroke="#0000ff" stroke-width="1"/>
<line x1="192.86" y1="674.5" x2="197.06" y2="674.5" stroke="#0000ff" stroke-width="1.1"/>
<rect x="202.36" y="656.9" width="7.4" height="43.03" fill="#ff0000"/>
<line x1="206.06" y1="656.9" x2="206.06" y2="652.5" stroke="#ff0000" stroke-width="1"/>
<line x1="203.96" y1="652.5" x2="208.16" y2="652.5" stroke="#ff0000" stroke-width="1.1"/>
<ellipse cx="204.21" cy="648.85" rx="0.8" ry="0.75" fill="#1a1a1a"/>
<ellipse cx="206.06" cy="648.85" rx="0.8" ry="0.75" fill="#1a1a1a"/>
<ellipse cx="207.91" cy="648.85" rx="0.8" ry="0.75" fill="#1a1a1a"/>
<rect x="213.46" y="645.8" width="7.4" height="54.13" fill="#00bf00"/>
<line x1="217.16" y1="645.8" x2="217.16" y2="641.2" stroke="#00bf00" stroke-width="1"/>
<line x1="215.06" y1="641.2" x2="219.26" y2="641.2" stroke="#00bf00" stroke-width="1.1"/>
<ellipse cx="215.31" cy="637.55" rx="0.8" ry="0.75" fill="#1a1a1a"/>
<ellipse cx="217.16" cy="637.55" rx="0.8" ry="0.75" fill="#1a1a1a"/>
<ellipse cx="219.01" cy="637.55" rx="0.8" ry="0.75" fill="#1a1a1a"/>
<text transform="translate(215.46 635.52) scale(0.85 1)" font-family='"Liberation Sans", sans-serif' font-size="3.6" font-weight="bold" font-style="normal" fill="#3a3a3a" stroke="#3a3a3a" stroke-width="0.2" text-rendering="geometricPrecision">##</text>
<rect x="231.98" y="582.5" width="7.4" height="117.43" fill="#0000ff"/>
<line x1="235.68" y1="582.5" x2="235.68" y2="575" stroke="#0000ff" stroke-width="1"/>
<line x1="233.58" y1="575" x2="237.78" y2="575" stroke="#0000ff" stroke-width="1.1"/>
<rect x="243.08" y="619.3" width="7.4" height="80.63" fill="#ff0000"/>
<line x1="246.78" y1="619.3" x2="246.78" y2="609.1" stroke="#ff0000" stroke-width="1"/>
<line x1="244.68" y1="609.1" x2="248.88" y2="609.1" stroke="#ff0000" stroke-width="1.1"/>
<ellipse cx="244.93" cy="607.15" rx="0.8" ry="0.75" fill="#1a1a1a"/>
<ellipse cx="246.78" cy="607.15" rx="0.8" ry="0.75" fill="#1a1a1a"/>
<ellipse cx="248.63" cy="607.15" rx="0.8" ry="0.75" fill="#1a1a1a"/>
<rect x="254.18" y="608.3" width="7.4" height="91.63" fill="#00bf00"/>
<line x1="257.88" y1="608.3" x2="257.88" y2="599.4" stroke="#00bf00" stroke-width="1"/>
<line x1="255.78" y1="599.4" x2="259.98" y2="599.4" stroke="#00bf00" stroke-width="1.1"/>
<ellipse cx="256.03" cy="596.05" rx="0.8" ry="0.75" fill="#1a1a1a"/>
<ellipse cx="257.88" cy="596.05" rx="0.8" ry="0.75" fill="#1a1a1a"/>
<ellipse cx="259.73" cy="596.05" rx="0.8" ry="0.75" fill="#1a1a1a"/>
<text transform="translate(256.18 594.22) scale(0.85 1)" font-family='"Liberation Sans", sans-serif' font-size="3.6" font-weight="bold" font-style="normal" fill="#3a3a3a" stroke="#3a3a3a" stroke-width="0.2" text-rendering="geometricPrecision">##</text>
<line x1="65.4" y1="566.31" x2="65.4" y2="700.58" stroke="#111111" stroke-width="1.3"/>
<line x1="64.75" y1="699.93" x2="266.7" y2="699.93" stroke="#111111" stroke-width="1.3"/>
<line x1="59.9" y1="699.93" x2="65.4" y2="699.93" stroke="#111111" stroke-width="1.3"/>
<text transform="translate(53.9 703.5) scale(0.78 1)" font-family='"Liberation Sans", sans-serif' font-size="10.2" font-weight="bold" font-style="normal" fill="#111111" stroke="#111111" stroke-width="0.35" stroke-linejoin="round" text-rendering="geometricPrecision">0</text>
<line x1="59.9" y1="673.34" x2="65.4" y2="673.34" stroke="#111111" stroke-width="1.3"/>
<text transform="translate(53.8 676.91) scale(0.78 1)" font-family='"Liberation Sans", sans-serif' font-size="10.2" font-weight="bold" font-style="normal" fill="#111111" stroke="#111111" stroke-width="0.35" stroke-linejoin="round" text-rendering="geometricPrecision">1</text>
<line x1="59.9" y1="646.74" x2="65.4" y2="646.74" stroke="#111111" stroke-width="1.3"/>
<text transform="translate(53.9 650.31) scale(0.78 1)" font-family='"Liberation Sans", sans-serif' font-size="10.2" font-weight="bold" font-style="normal" fill="#111111" stroke="#111111" stroke-width="0.35" stroke-linejoin="round" text-rendering="geometricPrecision">2</text>
<line x1="59.9" y1="620.15" x2="65.4" y2="620.15" stroke="#111111" stroke-width="1.3"/>
<text transform="translate(53.86 623.72) scale(0.78 1)" font-family='"Liberation Sans", sans-serif' font-size="10.2" font-weight="bold" font-style="normal" fill="#111111" stroke="#111111" stroke-width="0.35" stroke-linejoin="round" text-rendering="geometricPrecision">3</text>
<line x1="59.9" y1="593.55" x2="65.4" y2="593.55" stroke="#111111" stroke-width="1.3"/>
<text transform="translate(53.62 597.12) scale(0.78 1)" font-family='"Liberation Sans", sans-serif' font-size="10.2" font-weight="bold" font-style="normal" fill="#111111" stroke="#111111" stroke-width="0.35" stroke-linejoin="round" text-rendering="geometricPrecision">4</text>
<line x1="59.9" y1="566.96" x2="65.4" y2="566.96" stroke="#111111" stroke-width="1.3"/>
<text transform="translate(53.8 570.53) scale(0.78 1)" font-family='"Liberation Sans", sans-serif' font-size="10.2" font-weight="bold" font-style="normal" fill="#111111" stroke="#111111" stroke-width="0.35" stroke-linejoin="round" text-rendering="geometricPrecision">5</text>
<line x1="83.9" y1="699.93" x2="83.9" y2="705.43" stroke="#111111" stroke-width="1.3"/>
<text transform="translate(75.25 715.96) scale(0.87 1)" font-family='"Liberation Sans", sans-serif' font-size="9.82" font-weight="bold" font-style="normal" fill="#111111" stroke="#111111" stroke-width="0.35" stroke-linejoin="round" text-rendering="geometricPrecision">GLV</text>
<line x1="124.62" y1="699.93" x2="124.62" y2="705.43" stroke="#111111" stroke-width="1.3"/>
<text transform="translate(115.3 715.96) scale(0.87 1)" font-family='"Liberation Sans", sans-serif' font-size="9.82" font-weight="bold" font-style="normal" fill="#111111" stroke="#111111" stroke-width="0.35" stroke-linejoin="round" text-rendering="geometricPrecision">RHV</text>
<line x1="165.34" y1="699.93" x2="165.34" y2="705.43" stroke="#111111" stroke-width="1.3"/>
<text transform="translate(158.68 715.96) scale(0.87 1)" font-family='"Liberation Sans", sans-serif' font-size="9.82" font-weight="bold" font-style="normal" fill="#111111" stroke="#111111" stroke-width="0.35" stroke-linejoin="round" text-rendering="geometricPrecision">VIT</text>
<line x1="206.06" y1="699.93" x2="206.06" y2="705.43" stroke="#111111" stroke-width="1.3"/>
<text transform="translate(196.99 715.96) scale(0.87 1)" font-family='"Liberation Sans", sans-serif' font-size="9.82" font-weight="bold" font-style="normal" fill="#111111" stroke="#111111" stroke-width="0.35" stroke-linejoin="round" text-rendering="geometricPrecision">RUT</text>
<line x1="246.78" y1="699.93" x2="246.78" y2="705.43" stroke="#111111" stroke-width="1.3"/>
<text transform="translate(240.68 715.96) scale(0.87 1)" font-family='"Liberation Sans", sans-serif' font-size="9.82" font-weight="bold" font-style="normal" fill="#111111" stroke="#111111" stroke-width="0.35" stroke-linejoin="round" text-rendering="geometricPrecision">HP</text>
<rect x="275.1" y="573.1" width="14.3" height="6.5" fill="#0000ff"/>
<text transform="translate(297.39 580.24) scale(0.86 1)" font-family='"Liberation Sans", sans-serif' font-size="10.8" font-weight="normal" font-style="normal" fill="#1a1a1a" stroke="#1a1a1a" stroke-width="0.12" text-rendering="geometricPrecision">Control</text>
<rect x="275.1" y="589.2" width="14.3" height="6.4" fill="#ff0000"/>
<text transform="translate(297.39 596.29) scale(0.86 1)" font-family='"Liberation Sans", sans-serif' font-size="10.8" font-weight="normal" font-style="normal" fill="#1a1a1a" stroke="#1a1a1a" stroke-width="0.12" text-rendering="geometricPrecision">CBS</text>
<rect x="275.1" y="606.9" width="14.3" height="6.6" fill="#00bf00"/>
<text transform="translate(297.43 614.09) scale(0.86 1)" font-family='"Liberation Sans", sans-serif' font-size="10.8" font-weight="normal" font-style="normal" fill="#1a1a1a" stroke="#1a1a1a" stroke-width="0.12" text-rendering="geometricPrecision">SDS</text>
<g><text transform="translate(32.8 677.35) rotate(-90) scale(0.84 1) skewX(-6)" font-family='"Liberation Sans", sans-serif' font-size="10.5" font-weight="bold" font-style="italic" fill="#111111" stroke="#111111" stroke-width="0.35" stroke-linejoin="round" text-rendering="geometricPrecision">P</text>
<text transform="translate(36 671.49) rotate(-90) scale(0.83 1)" font-family='"Liberation Sans", sans-serif' font-size="7.6" font-weight="bold" font-style="normal" fill="#111111" stroke="#111111" stroke-width="0.35" stroke-linejoin="round" text-rendering="geometricPrecision">app</text>
<text transform="translate(33.1 656.91) rotate(-90) scale(0.8 1)" font-family='"Liberation Sans", sans-serif' font-size="10.3" font-weight="bold" font-style="normal" fill="#111111" stroke="#111111" stroke-width="0.35" stroke-linejoin="round" text-rendering="geometricPrecision">(×</text>
<text transform="translate(33.1 647.72) rotate(-90) scale(0.8 1)" font-family='"Liberation Sans", sans-serif' font-size="10.3" font-weight="bold" font-style="normal" fill="#111111" stroke="#111111" stroke-width="0.35" stroke-linejoin="round" text-rendering="geometricPrecision">10</text>
<text transform="translate(26.2 638.84) rotate(-90) scale(0.8 1)" font-family='"Liberation Sans", sans-serif' font-size="7.4" font-weight="bold" font-style="normal" fill="#111111" stroke="#111111" stroke-width="0.35" stroke-linejoin="round" text-rendering="geometricPrecision">-7</text>
<text transform="translate(33.1 635.1) rotate(-90) scale(0.93 1)" font-family='"Liberation Sans", sans-serif' font-size="10.3" font-weight="bold" font-style="normal" fill="#111111" stroke="#111111" stroke-width="0.35" stroke-linejoin="round" text-rendering="geometricPrecision">/cm·sec</text>
<text transform="translate(27 597.53) rotate(-90) scale(0.8 1)" font-family='"Liberation Sans", sans-serif' font-size="7.2" font-weight="bold" font-style="normal" fill="#111111" stroke="#111111" stroke-width="0.35" stroke-linejoin="round" text-rendering="geometricPrecision">-1</text>
<text transform="translate(33.1 591.82) rotate(-90) scale(0.8 1)" font-family='"Liberation Sans", sans-serif' font-size="10.3" font-weight="bold" font-style="normal" fill="#111111" stroke="#111111" stroke-width="0.35" stroke-linejoin="round" text-rendering="geometricPrecision">)</text></g>
<text transform="translate(354.43 29.65) scale(0.8 1)" font-family='"Liberation Sans", sans-serif' font-size="22.55" font-weight="bold" font-style="normal" fill="#000" stroke="#000" stroke-width="0.35" stroke-linejoin="round" text-rendering="geometricPrecision">D</text>
<rect x="402" y="153.1" width="7.4" height="18.9" fill="#0000ff"/>
<line x1="405.7" y1="153.1" x2="405.7" y2="151.2" stroke="#0000ff" stroke-width="1"/>
<line x1="403.6" y1="151.2" x2="407.8" y2="151.2" stroke="#0000ff" stroke-width="1.1"/>
<rect x="413.1" y="141.7" width="7.4" height="30.3" fill="#ff0000"/>
<line x1="416.8" y1="141.7" x2="416.8" y2="138.2" stroke="#ff0000" stroke-width="1"/>
<line x1="414.7" y1="138.2" x2="418.9" y2="138.2" stroke="#ff0000" stroke-width="1.1"/>
<ellipse cx="414.95" cy="135.05" rx="0.8" ry="0.75" fill="#1a1a1a"/>
<ellipse cx="416.8" cy="135.05" rx="0.8" ry="0.75" fill="#1a1a1a"/>
<ellipse cx="418.65" cy="135.05" rx="0.8" ry="0.75" fill="#1a1a1a"/>
<rect x="424.2" y="146.7" width="7.4" height="25.3" fill="#00bf00"/>
<line x1="427.9" y1="146.7" x2="427.9" y2="144.4" stroke="#00bf00" stroke-width="1"/>
<line x1="425.8" y1="144.4" x2="430" y2="144.4" stroke="#00bf00" stroke-width="1.1"/>
<ellipse cx="426.98" cy="141.15" rx="0.8" ry="0.75" fill="#1a1a1a"/>
<ellipse cx="428.83" cy="141.15" rx="0.8" ry="0.75" fill="#1a1a1a"/>
<text transform="translate(427.05 138.82) scale(0.85 1)" font-family='"Liberation Sans", sans-serif' font-size="3.6" font-weight="bold" font-style="normal" fill="#3a3a3a" stroke="#3a3a3a" stroke-width="0.2" text-rendering="geometricPrecision">#</text>
<rect x="442.72" y="156.1" width="7.4" height="15.9" fill="#0000ff"/>
<line x1="446.42" y1="156.1" x2="446.42" y2="154.9" stroke="#0000ff" stroke-width="1"/>
<line x1="444.32" y1="154.9" x2="448.52" y2="154.9" stroke="#0000ff" stroke-width="1.1"/>
<rect x="453.82" y="146.1" width="7.4" height="25.9" fill="#ff0000"/>
<line x1="457.52" y1="146.1" x2="457.52" y2="144.6" stroke="#ff0000" stroke-width="1"/>
<line x1="455.42" y1="144.6" x2="459.62" y2="144.6" stroke="#ff0000" stroke-width="1.1"/>
<ellipse cx="455.67" cy="140.55" rx="0.8" ry="0.75" fill="#1a1a1a"/>
<ellipse cx="457.52" cy="140.55" rx="0.8" ry="0.75" fill="#1a1a1a"/>
<ellipse cx="459.37" cy="140.55" rx="0.8" ry="0.75" fill="#1a1a1a"/>
<rect x="464.92" y="153.5" width="7.4" height="18.5" fill="#00bf00"/>
<line x1="468.62" y1="153.5" x2="468.62" y2="151.7" stroke="#00bf00" stroke-width="1"/>
<line x1="466.52" y1="151.7" x2="470.72" y2="151.7" stroke="#00bf00" stroke-width="1.1"/>
<text transform="translate(466.06 150.12) scale(0.85 1)" font-family='"Liberation Sans", sans-serif' font-size="3.6" font-weight="bold" font-style="normal" fill="#3a3a3a" stroke="#3a3a3a" stroke-width="0.2" text-rendering="geometricPrecision">###</text>
<rect x="483.44" y="149.6" width="7.4" height="22.4" fill="#0000ff"/>
<line x1="487.14" y1="149.6" x2="487.14" y2="147.3" stroke="#0000ff" stroke-width="1"/>
<line x1="485.04" y1="147.3" x2="489.24" y2="147.3" stroke="#0000ff" stroke-width="1.1"/>
<rect x="494.54" y="133.6" width="7.4" height="38.4" fill="#ff0000"/>
<line x1="498.24" y1="133.6" x2="498.24" y2="130.6" stroke="#ff0000" stroke-width="1"/>
<line x1="496.14" y1="130.6" x2="500.34" y2="130.6" stroke="#ff0000" stroke-width="1.1"/>
<ellipse cx="496.39" cy="127.45" rx="0.8" ry="0.75" fill="#1a1a1a"/>
<ellipse cx="498.24" cy="127.45" rx="0.8" ry="0.75" fill="#1a1a1a"/>
<ellipse cx="500.09" cy="127.45" rx="0.8" ry="0.75" fill="#1a1a1a"/>
<rect x="505.64" y="140.1" width="7.4" height="31.9" fill="#00bf00"/>
<line x1="509.34" y1="140.1" x2="509.34" y2="135.6" stroke="#00bf00" stroke-width="1"/>
<line x1="507.24" y1="135.6" x2="511.44" y2="135.6" stroke="#00bf00" stroke-width="1.1"/>
<ellipse cx="507.49" cy="132.95" rx="0.8" ry="0.75" fill="#1a1a1a"/>
<ellipse cx="509.34" cy="132.95" rx="0.8" ry="0.75" fill="#1a1a1a"/>
<ellipse cx="511.19" cy="132.95" rx="0.8" ry="0.75" fill="#1a1a1a"/>
<text transform="translate(507.64 130.02) scale(0.85 1)" font-family='"Liberation Sans", sans-serif' font-size="3.6" font-weight="bold" font-style="normal" fill="#3a3a3a" stroke="#3a3a3a" stroke-width="0.2" text-rendering="geometricPrecision">##</text>
<rect x="524.16" y="158" width="7.4" height="14" fill="#0000ff"/>
<line x1="527.86" y1="158" x2="527.86" y2="156.4" stroke="#0000ff" stroke-width="1"/>
<line x1="525.76" y1="156.4" x2="529.96" y2="156.4" stroke="#0000ff" stroke-width="1.1"/>
<rect x="535.26" y="149" width="7.4" height="23" fill="#ff0000"/>
<line x1="538.96" y1="149" x2="538.96" y2="147.3" stroke="#ff0000" stroke-width="1"/>
<line x1="536.86" y1="147.3" x2="541.06" y2="147.3" stroke="#ff0000" stroke-width="1.1"/>
<ellipse cx="537.11" cy="143.45" rx="0.8" ry="0.75" fill="#1a1a1a"/>
<ellipse cx="538.96" cy="143.45" rx="0.8" ry="0.75" fill="#1a1a1a"/>
<ellipse cx="540.81" cy="143.45" rx="0.8" ry="0.75" fill="#1a1a1a"/>
<rect x="546.36" y="151" width="7.4" height="21" fill="#00bf00"/>
<line x1="550.06" y1="151" x2="550.06" y2="148.8" stroke="#00bf00" stroke-width="1"/>
<line x1="547.96" y1="148.8" x2="552.16" y2="148.8" stroke="#00bf00" stroke-width="1.1"/>
<ellipse cx="550.06" cy="145.25" rx="0.8" ry="0.75" fill="#1a1a1a"/>
<rect x="564.88" y="98.5" width="7.4" height="73.5" fill="#0000ff"/>
<line x1="568.58" y1="98.5" x2="568.58" y2="93" stroke="#0000ff" stroke-width="1"/>
<line x1="566.48" y1="93" x2="570.68" y2="93" stroke="#0000ff" stroke-width="1.1"/>
<rect x="575.98" y="58.3" width="7.4" height="113.7" fill="#ff0000"/>
<line x1="579.68" y1="58.3" x2="579.68" y2="48.6" stroke="#ff0000" stroke-width="1"/>
<line x1="577.58" y1="48.6" x2="581.78" y2="48.6" stroke="#ff0000" stroke-width="1.1"/>
<ellipse cx="577.83" cy="44.65" rx="0.8" ry="0.75" fill="#1a1a1a"/>
<ellipse cx="579.68" cy="44.65" rx="0.8" ry="0.75" fill="#1a1a1a"/>
<ellipse cx="581.53" cy="44.65" rx="0.8" ry="0.75" fill="#1a1a1a"/>
<rect x="587.08" y="82.4" width="7.4" height="89.6" fill="#00bf00"/>
<line x1="590.78" y1="82.4" x2="590.78" y2="71.9" stroke="#00bf00" stroke-width="1"/>
<line x1="588.68" y1="71.9" x2="592.88" y2="71.9" stroke="#00bf00" stroke-width="1.1"/>
<ellipse cx="588.93" cy="68.75" rx="0.8" ry="0.75" fill="#1a1a1a"/>
<ellipse cx="590.78" cy="68.75" rx="0.8" ry="0.75" fill="#1a1a1a"/>
<ellipse cx="592.63" cy="68.75" rx="0.8" ry="0.75" fill="#1a1a1a"/>
<text transform="translate(588.22 66.92) scale(0.85 1)" font-family='"Liberation Sans", sans-serif' font-size="3.6" font-weight="bold" font-style="normal" fill="#3a3a3a" stroke="#3a3a3a" stroke-width="0.2" text-rendering="geometricPrecision">###</text>
<line x1="398.3" y1="38.19" x2="398.3" y2="172.65" stroke="#111111" stroke-width="1.3"/>
<line x1="397.65" y1="172" x2="599.6" y2="172" stroke="#111111" stroke-width="1.3"/>
<line x1="392.8" y1="172" x2="398.3" y2="172" stroke="#111111" stroke-width="1.3"/>
<text transform="translate(379.72 175.62) scale(0.8 1)" font-family='"Liberation Sans", sans-serif' font-size="10.35" font-weight="bold" font-style="normal" fill="#111111" stroke="#111111" stroke-width="0.35" stroke-linejoin="round" text-rendering="geometricPrecision">0.0</text>
<line x1="392.8" y1="127.61" x2="398.3" y2="127.61" stroke="#111111" stroke-width="1.3"/>
<text transform="translate(379.62 131.24) scale(0.8 1)" font-family='"Liberation Sans", sans-serif' font-size="10.35" font-weight="bold" font-style="normal" fill="#111111" stroke="#111111" stroke-width="0.35" stroke-linejoin="round" text-rendering="geometricPrecision">0.1</text>
<line x1="392.8" y1="83.23" x2="398.3" y2="83.23" stroke="#111111" stroke-width="1.3"/>
<text transform="translate(379.72 86.85) scale(0.8 1)" font-family='"Liberation Sans", sans-serif' font-size="10.35" font-weight="bold" font-style="normal" fill="#111111" stroke="#111111" stroke-width="0.35" stroke-linejoin="round" text-rendering="geometricPrecision">0.2</text>
<line x1="392.8" y1="38.84" x2="398.3" y2="38.84" stroke="#111111" stroke-width="1.3"/>
<text transform="translate(379.68 42.46) scale(0.8 1)" font-family='"Liberation Sans", sans-serif' font-size="10.35" font-weight="bold" font-style="normal" fill="#111111" stroke="#111111" stroke-width="0.35" stroke-linejoin="round" text-rendering="geometricPrecision">0.3</text>
<line x1="416.8" y1="172" x2="416.8" y2="177.5" stroke="#111111" stroke-width="1.3"/>
<text transform="translate(408.31 188.03) scale(0.86 1)" font-family='"Liberation Sans", sans-serif' font-size="9.82" font-weight="bold" font-style="normal" fill="#111111" stroke="#111111" stroke-width="0.35" stroke-linejoin="round" text-rendering="geometricPrecision">GLV</text>
<line x1="457.52" y1="172" x2="457.52" y2="177.5" stroke="#111111" stroke-width="1.3"/>
<text transform="translate(448.37 188.03) scale(0.86 1)" font-family='"Liberation Sans", sans-serif' font-size="9.82" font-weight="bold" font-style="normal" fill="#111111" stroke="#111111" stroke-width="0.35" stroke-linejoin="round" text-rendering="geometricPrecision">RHV</text>
<line x1="498.24" y1="172" x2="498.24" y2="177.5" stroke="#111111" stroke-width="1.3"/>
<text transform="translate(491.7 188.03) scale(0.86 1)" font-family='"Liberation Sans", sans-serif' font-size="9.82" font-weight="bold" font-style="normal" fill="#111111" stroke="#111111" stroke-width="0.35" stroke-linejoin="round" text-rendering="geometricPrecision">VIT</text>
<line x1="538.96" y1="172" x2="538.96" y2="177.5" stroke="#111111" stroke-width="1.3"/>
<text transform="translate(530.06 188.03) scale(0.86 1)" font-family='"Liberation Sans", sans-serif' font-size="9.82" font-weight="bold" font-style="normal" fill="#111111" stroke="#111111" stroke-width="0.35" stroke-linejoin="round" text-rendering="geometricPrecision">RUT</text>
<line x1="579.68" y1="172" x2="579.68" y2="177.5" stroke="#111111" stroke-width="1.3"/>
<text transform="translate(573.69 188.03) scale(0.86 1)" font-family='"Liberation Sans", sans-serif' font-size="9.82" font-weight="bold" font-style="normal" fill="#111111" stroke="#111111" stroke-width="0.35" stroke-linejoin="round" text-rendering="geometricPrecision">HP</text>
<rect x="608.1" y="44.6" width="13.7" height="7.1" fill="#0000ff"/>
<text transform="translate(629.29 52.04) scale(0.86 1)" font-family='"Liberation Sans", sans-serif' font-size="10.8" font-weight="normal" font-style="normal" fill="#1a1a1a" stroke="#1a1a1a" stroke-width="0.12" text-rendering="geometricPrecision">Control</text>
<rect x="608.1" y="60.4" width="13.7" height="7.1" fill="#ff0000"/>
<text transform="translate(629.7 67.84) scale(0.86 1)" font-family='"Liberation Sans", sans-serif' font-size="10.8" font-weight="normal" font-style="normal" fill="#1a1a1a" stroke="#1a1a1a" stroke-width="0.12" text-rendering="geometricPrecision">VP</text>
<rect x="608.1" y="76.5" width="13.7" height="7.1" fill="#00bf00"/>
<text transform="translate(628.98 83.94) scale(0.86 1)" font-family='"Liberation Sans", sans-serif' font-size="10.8" font-weight="normal" font-style="normal" fill="#1a1a1a" stroke="#1a1a1a" stroke-width="0.12" text-rendering="geometricPrecision">DIG</text>
<g transform="translate(332.6 -0.9)"><text transform="translate(35.7 131.36) rotate(-90) skewX(-10)" font-family='"Liberation Serif", serif' font-size="15.3" font-weight="normal" font-style="italic" fill="#111111" stroke="#111111" stroke-width="0.3" text-rendering="geometricPrecision">k</text>
<text transform="translate(38.9 123.15) rotate(-90) scale(1.2 1) skewX(-8)" font-family='"Liberation Serif", serif' font-size="9.6" font-weight="normal" font-style="italic" fill="#111111" stroke="#111111" stroke-width="0.3" text-rendering="geometricPrecision">a</text>
<text transform="translate(27.6 122.56) rotate(-90) scale(1.32 1) skewX(-8)" font-family='"Liberation Serif", serif' font-size="9.2" font-weight="normal" font-style="italic" fill="#111111" stroke="#111111" stroke-width="0.3" text-rendering="geometricPrecision">app</text>
<text transform="translate(36.9 102.81) rotate(-90) scale(0.75 1)" font-family='"Liberation Sans", sans-serif' font-size="10.8" font-weight="bold" font-style="normal" fill="#111111" stroke="#111111" stroke-width="0.35" stroke-linejoin="round" text-rendering="geometricPrecision">(h</text>
<text transform="translate(30.9 94.44) rotate(-90) scale(0.8 1)" font-family='"Liberation Sans", sans-serif' font-size="7.6" font-weight="bold" font-style="normal" fill="#111111" stroke="#111111" stroke-width="0.35" stroke-linejoin="round" text-rendering="geometricPrecision">-1</text>
<text transform="translate(36.9 88.42) rotate(-90) scale(0.75 1)" font-family='"Liberation Sans", sans-serif' font-size="10.8" font-weight="bold" font-style="normal" fill="#111111" stroke="#111111" stroke-width="0.35" stroke-linejoin="round" text-rendering="geometricPrecision">)</text></g>
<text transform="translate(353.09 300.75) scale(0.76 1)" font-family='"Liberation Sans", sans-serif' font-size="22.55" font-weight="bold" font-style="normal" fill="#000" stroke="#000" stroke-width="0.35" stroke-linejoin="round" text-rendering="geometricPrecision">E</text>
<rect x="395.35" y="426.1" width="7.4" height="16.9" fill="#0000ff"/>
<line x1="399.05" y1="426.1" x2="399.05" y2="424.3" stroke="#0000ff" stroke-width="1"/>
<line x1="396.95" y1="424.3" x2="401.15" y2="424.3" stroke="#0000ff" stroke-width="1.1"/>
<rect x="406.45" y="414.1" width="7.4" height="28.9" fill="#ff0000"/>
<line x1="410.15" y1="414.1" x2="410.15" y2="411.2" stroke="#ff0000" stroke-width="1"/>
<line x1="408.05" y1="411.2" x2="412.25" y2="411.2" stroke="#ff0000" stroke-width="1.1"/>
<ellipse cx="408.3" cy="408.75" rx="0.8" ry="0.75" fill="#1a1a1a"/>
<ellipse cx="410.15" cy="408.75" rx="0.8" ry="0.75" fill="#1a1a1a"/>
<ellipse cx="412" cy="408.75" rx="0.8" ry="0.75" fill="#1a1a1a"/>
<rect x="417.55" y="420.2" width="7.4" height="22.8" fill="#00bf00"/>
<line x1="421.25" y1="420.2" x2="421.25" y2="417.5" stroke="#00bf00" stroke-width="1"/>
<line x1="419.15" y1="417.5" x2="423.35" y2="417.5" stroke="#00bf00" stroke-width="1.1"/>
<ellipse cx="421.25" cy="414.65" rx="0.8" ry="0.75" fill="#1a1a1a"/>
<text transform="translate(420.4 412.92) scale(0.85 1)" font-family='"Liberation Sans", sans-serif' font-size="3.6" font-weight="bold" font-style="normal" fill="#3a3a3a" stroke="#3a3a3a" stroke-width="0.2" text-rendering="geometricPrecision">#</text>
<rect x="436.07" y="425.8" width="7.4" height="17.2" fill="#0000ff"/>
<line x1="439.77" y1="425.8" x2="439.77" y2="423.4" stroke="#0000ff" stroke-width="1"/>
<line x1="437.67" y1="423.4" x2="441.87" y2="423.4" stroke="#0000ff" stroke-width="1.1"/>
<rect x="447.17" y="415.5" width="7.4" height="27.5" fill="#ff0000"/>
<line x1="450.87" y1="415.5" x2="450.87" y2="413" stroke="#ff0000" stroke-width="1"/>
<line x1="448.77" y1="413" x2="452.97" y2="413" stroke="#ff0000" stroke-width="1.1"/>
<ellipse cx="449.02" cy="409.75" rx="0.8" ry="0.75" fill="#1a1a1a"/>
<ellipse cx="450.87" cy="409.75" rx="0.8" ry="0.75" fill="#1a1a1a"/>
<ellipse cx="452.72" cy="409.75" rx="0.8" ry="0.75" fill="#1a1a1a"/>
<rect x="458.27" y="419.6" width="7.4" height="23.4" fill="#00bf00"/>
<line x1="461.97" y1="419.6" x2="461.97" y2="417.3" stroke="#00bf00" stroke-width="1"/>
<line x1="459.87" y1="417.3" x2="464.07" y2="417.3" stroke="#00bf00" stroke-width="1.1"/>
<ellipse cx="461.97" cy="414.85" rx="0.8" ry="0.75" fill="#1a1a1a"/>
<text transform="translate(461.12 412.32) scale(0.85 1)" font-family='"Liberation Sans", sans-serif' font-size="3.6" font-weight="bold" font-style="normal" fill="#3a3a3a" stroke="#3a3a3a" stroke-width="0.2" text-rendering="geometricPrecision">#</text>
<rect x="476.79" y="422.2" width="7.4" height="20.8" fill="#0000ff"/>
<line x1="480.49" y1="422.2" x2="480.49" y2="420.2" stroke="#0000ff" stroke-width="1"/>
<line x1="478.39" y1="420.2" x2="482.59" y2="420.2" stroke="#0000ff" stroke-width="1.1"/>
<rect x="487.89" y="401.2" width="7.4" height="41.8" fill="#ff0000"/>
<line x1="491.59" y1="401.2" x2="491.59" y2="398" stroke="#ff0000" stroke-width="1"/>
<line x1="489.49" y1="398" x2="493.69" y2="398" stroke="#ff0000" stroke-width="1.1"/>
<ellipse cx="489.74" cy="394.55" rx="0.8" ry="0.75" fill="#1a1a1a"/>
<ellipse cx="491.59" cy="394.55" rx="0.8" ry="0.75" fill="#1a1a1a"/>
<ellipse cx="493.44" cy="394.55" rx="0.8" ry="0.75" fill="#1a1a1a"/>
<rect x="498.99" y="410.5" width="7.4" height="32.5" fill="#00bf00"/>
<line x1="502.69" y1="410.5" x2="502.69" y2="407.6" stroke="#00bf00" stroke-width="1"/>
<line x1="500.59" y1="407.6" x2="504.79" y2="407.6" stroke="#00bf00" stroke-width="1.1"/>
<ellipse cx="500.84" cy="404.75" rx="0.8" ry="0.75" fill="#1a1a1a"/>
<ellipse cx="502.69" cy="404.75" rx="0.8" ry="0.75" fill="#1a1a1a"/>
<ellipse cx="504.54" cy="404.75" rx="0.8" ry="0.75" fill="#1a1a1a"/>
<text transform="translate(500.13 403.02) scale(0.85 1)" font-family='"Liberation Sans", sans-serif' font-size="3.6" font-weight="bold" font-style="normal" fill="#3a3a3a" stroke="#3a3a3a" stroke-width="0.2" text-rendering="geometricPrecision">###</text>
<rect x="517.51" y="427.2" width="7.4" height="15.8" fill="#0000ff"/>
<line x1="521.21" y1="427.2" x2="521.21" y2="426.3" stroke="#0000ff" stroke-width="1"/>
<line x1="519.11" y1="426.3" x2="523.31" y2="426.3" stroke="#0000ff" stroke-width="1.1"/>
<rect x="528.61" y="401.2" width="7.4" height="41.8" fill="#ff0000"/>
<line x1="532.31" y1="401.2" x2="532.31" y2="396.3" stroke="#ff0000" stroke-width="1"/>
<line x1="530.21" y1="396.3" x2="534.41" y2="396.3" stroke="#ff0000" stroke-width="1.1"/>
<ellipse cx="530.46" cy="393.85" rx="0.8" ry="0.75" fill="#1a1a1a"/>
<ellipse cx="532.31" cy="393.85" rx="0.8" ry="0.75" fill="#1a1a1a"/>
<ellipse cx="534.16" cy="393.85" rx="0.8" ry="0.75" fill="#1a1a1a"/>
<rect x="539.71" y="415.2" width="7.4" height="27.8" fill="#00bf00"/>
<line x1="543.41" y1="415.2" x2="543.41" y2="411.5" stroke="#00bf00" stroke-width="1"/>
<line x1="541.31" y1="411.5" x2="545.51" y2="411.5" stroke="#00bf00" stroke-width="1.1"/>
<ellipse cx="541.56" cy="409.35" rx="0.8" ry="0.75" fill="#1a1a1a"/>
<ellipse cx="543.41" cy="409.35" rx="0.8" ry="0.75" fill="#1a1a1a"/>
<ellipse cx="545.26" cy="409.35" rx="0.8" ry="0.75" fill="#1a1a1a"/>
<text transform="translate(540.85 407.32) scale(0.85 1)" font-family='"Liberation Sans", sans-serif' font-size="3.6" font-weight="bold" font-style="normal" fill="#3a3a3a" stroke="#3a3a3a" stroke-width="0.2" text-rendering="geometricPrecision">###</text>
<rect x="558.23" y="368.2" width="7.4" height="74.8" fill="#0000ff"/>
<line x1="561.93" y1="368.2" x2="561.93" y2="362.1" stroke="#0000ff" stroke-width="1"/>
<line x1="559.83" y1="362.1" x2="564.03" y2="362.1" stroke="#0000ff" stroke-width="1.1"/>
<rect x="569.33" y="328.8" width="7.4" height="114.2" fill="#ff0000"/>
<line x1="573.03" y1="328.8" x2="573.03" y2="321.9" stroke="#ff0000" stroke-width="1"/>
<line x1="570.93" y1="321.9" x2="575.13" y2="321.9" stroke="#ff0000" stroke-width="1.1"/>
<ellipse cx="571.18" cy="318.85" rx="0.8" ry="0.75" fill="#1a1a1a"/>
<ellipse cx="573.03" cy="318.85" rx="0.8" ry="0.75" fill="#1a1a1a"/>
<ellipse cx="574.88" cy="318.85" rx="0.8" ry="0.75" fill="#1a1a1a"/>
<rect x="580.43" y="349.9" width="7.4" height="93.1" fill="#00bf00"/>
<line x1="584.13" y1="349.9" x2="584.13" y2="343.3" stroke="#00bf00" stroke-width="1"/>
<line x1="582.03" y1="343.3" x2="586.23" y2="343.3" stroke="#00bf00" stroke-width="1.1"/>
<ellipse cx="582.28" cy="340.15" rx="0.8" ry="0.75" fill="#1a1a1a"/>
<ellipse cx="584.13" cy="340.15" rx="0.8" ry="0.75" fill="#1a1a1a"/>
<ellipse cx="585.98" cy="340.15" rx="0.8" ry="0.75" fill="#1a1a1a"/>
<text transform="translate(581.57 337.82) scale(0.85 1)" font-family='"Liberation Sans", sans-serif' font-size="3.6" font-weight="bold" font-style="normal" fill="#3a3a3a" stroke="#3a3a3a" stroke-width="0.2" text-rendering="geometricPrecision">###</text>
<line x1="391.65" y1="309.35" x2="391.65" y2="443.65" stroke="#111111" stroke-width="1.3"/>
<line x1="391" y1="443" x2="592.95" y2="443" stroke="#111111" stroke-width="1.3"/>
<line x1="386.15" y1="443" x2="391.65" y2="443" stroke="#111111" stroke-width="1.3"/>
<text transform="translate(380.15 446.57) scale(0.78 1)" font-family='"Liberation Sans", sans-serif' font-size="10.2" font-weight="bold" font-style="normal" fill="#111111" stroke="#111111" stroke-width="0.35" stroke-linejoin="round" text-rendering="geometricPrecision">0</text>
<line x1="386.15" y1="409.75" x2="391.65" y2="409.75" stroke="#111111" stroke-width="1.3"/>
<text transform="translate(380.05 413.32) scale(0.78 1)" font-family='"Liberation Sans", sans-serif' font-size="10.2" font-weight="bold" font-style="normal" fill="#111111" stroke="#111111" stroke-width="0.35" stroke-linejoin="round" text-rendering="geometricPrecision">5</text>
<line x1="386.15" y1="376.5" x2="391.65" y2="376.5" stroke="#111111" stroke-width="1.3"/>
<text transform="translate(375.74 380.07) scale(0.78 1)" font-family='"Liberation Sans", sans-serif' font-size="10.2" font-weight="bold" font-style="normal" fill="#111111" stroke="#111111" stroke-width="0.35" stroke-linejoin="round" text-rendering="geometricPrecision">10</text>
<line x1="386.15" y1="343.25" x2="391.65" y2="343.25" stroke="#111111" stroke-width="1.3"/>
<text transform="translate(375.64 346.82) scale(0.78 1)" font-family='"Liberation Sans", sans-serif' font-size="10.2" font-weight="bold" font-style="normal" fill="#111111" stroke="#111111" stroke-width="0.35" stroke-linejoin="round" text-rendering="geometricPrecision">15</text>
<line x1="386.15" y1="310" x2="391.65" y2="310" stroke="#111111" stroke-width="1.3"/>
<text transform="translate(375.74 313.57) scale(0.78 1)" font-family='"Liberation Sans", sans-serif' font-size="10.2" font-weight="bold" font-style="normal" fill="#111111" stroke="#111111" stroke-width="0.35" stroke-linejoin="round" text-rendering="geometricPrecision">20</text>
<line x1="410.15" y1="443" x2="410.15" y2="448.5" stroke="#111111" stroke-width="1.3"/>
<text transform="translate(401.85 459.03) scale(0.84 1)" font-family='"Liberation Sans", sans-serif' font-size="9.82" font-weight="bold" font-style="normal" fill="#111111" stroke="#111111" stroke-width="0.35" stroke-linejoin="round" text-rendering="geometricPrecision">GLV</text>
<line x1="450.87" y1="443" x2="450.87" y2="448.5" stroke="#111111" stroke-width="1.3"/>
<text transform="translate(441.92 459.03) scale(0.84 1)" font-family='"Liberation Sans", sans-serif' font-size="9.82" font-weight="bold" font-style="normal" fill="#111111" stroke="#111111" stroke-width="0.35" stroke-linejoin="round" text-rendering="geometricPrecision">RHV</text>
<line x1="491.59" y1="443" x2="491.59" y2="448.5" stroke="#111111" stroke-width="1.3"/>
<text transform="translate(485.19 459.03) scale(0.84 1)" font-family='"Liberation Sans", sans-serif' font-size="9.82" font-weight="bold" font-style="normal" fill="#111111" stroke="#111111" stroke-width="0.35" stroke-linejoin="round" text-rendering="geometricPrecision">VIT</text>
<line x1="532.31" y1="443" x2="532.31" y2="448.5" stroke="#111111" stroke-width="1.3"/>
<text transform="translate(523.61 459.03) scale(0.84 1)" font-family='"Liberation Sans", sans-serif' font-size="9.82" font-weight="bold" font-style="normal" fill="#111111" stroke="#111111" stroke-width="0.35" stroke-linejoin="round" text-rendering="geometricPrecision">RUT</text>
<line x1="573.03" y1="443" x2="573.03" y2="448.5" stroke="#111111" stroke-width="1.3"/>
<text transform="translate(567.17 459.03) scale(0.84 1)" font-family='"Liberation Sans", sans-serif' font-size="9.82" font-weight="bold" font-style="normal" fill="#111111" stroke="#111111" stroke-width="0.35" stroke-linejoin="round" text-rendering="geometricPrecision">HP</text>
<rect x="602.5" y="315.7" width="13.8" height="7.4" fill="#0000ff"/>
<text transform="translate(624.29 323.29) scale(0.86 1)" font-family='"Liberation Sans", sans-serif' font-size="10.8" font-weight="normal" font-style="normal" fill="#1a1a1a" stroke="#1a1a1a" stroke-width="0.12" text-rendering="geometricPrecision">Control</text>
<rect x="602.5" y="331.8" width="13.8" height="7.1" fill="#ff0000"/>
<text transform="translate(624.7 339.24) scale(0.86 1)" font-family='"Liberation Sans", sans-serif' font-size="10.8" font-weight="normal" font-style="normal" fill="#1a1a1a" stroke="#1a1a1a" stroke-width="0.12" text-rendering="geometricPrecision">VP</text>
<rect x="602.5" y="347.6" width="13.8" height="7.1" fill="#00bf00"/>
<text transform="translate(623.98 355.04) scale(0.86 1)" font-family='"Liberation Sans", sans-serif' font-size="10.8" font-weight="normal" font-style="normal" fill="#1a1a1a" stroke="#1a1a1a" stroke-width="0.12" text-rendering="geometricPrecision">DIG</text>
<g transform="translate(332.6 -1.1)"><text transform="translate(36 396.01) rotate(-90) scale(0.78 1)" font-family='"Liberation Sans", sans-serif' font-size="10.9" font-weight="bold" font-style="normal" fill="#111111" stroke="#111111" stroke-width="0.35" stroke-linejoin="round" text-rendering="geometricPrecision">A (%</text>
<text transform="translate(36 375.5) rotate(-90) scale(0.78 1)" font-family='"Liberation Sans", sans-serif' font-size="10.9" font-weight="bold" font-style="normal" fill="#111111" stroke="#111111" stroke-width="0.35" stroke-linejoin="round" text-rendering="geometricPrecision">·</text>
<text transform="translate(36 373.5) rotate(-90) scale(0.78 1)" font-family='"Liberation Sans", sans-serif' font-size="10.9" font-weight="bold" font-style="normal" fill="#111111" stroke="#111111" stroke-width="0.35" stroke-linejoin="round" text-rendering="geometricPrecision">h</text>
<text transform="translate(30.6 368.04) rotate(-90) scale(0.8 1)" font-family='"Liberation Sans", sans-serif' font-size="7.4" font-weight="bold" font-style="normal" fill="#111111" stroke="#111111" stroke-width="0.35" stroke-linejoin="round" text-rendering="geometricPrecision">-1</text>
<text transform="translate(36 360.72) rotate(-90) scale(0.78 1)" font-family='"Liberation Sans", sans-serif' font-size="10.9" font-weight="bold" font-style="normal" fill="#111111" stroke="#111111" stroke-width="0.35" stroke-linejoin="round" text-rendering="geometricPrecision">)</text></g>
<text transform="translate(362.71 571.75) scale(0.75 1)" font-family='"Liberation Sans", sans-serif' font-size="22.69" font-weight="bold" font-style="normal" fill="#000" stroke="#000" stroke-width="0.35" stroke-linejoin="round" text-rendering="geometricPrecision">F</text>
<rect x="402.1" y="694.7" width="7.4" height="19.08" fill="#0000ff"/>
<line x1="405.8" y1="694.7" x2="405.8" y2="692.3" stroke="#0000ff" stroke-width="1"/>
<line x1="403.7" y1="692.3" x2="407.9" y2="692.3" stroke="#0000ff" stroke-width="1.1"/>
<rect x="413.2" y="683.2" width="7.4" height="30.58" fill="#ff0000"/>
<line x1="416.9" y1="683.2" x2="416.9" y2="680.3" stroke="#ff0000" stroke-width="1"/>
<line x1="414.8" y1="680.3" x2="419" y2="680.3" stroke="#ff0000" stroke-width="1.1"/>
<ellipse cx="415.05" cy="677.05" rx="0.8" ry="0.75" fill="#1a1a1a"/>
<ellipse cx="416.9" cy="677.05" rx="0.8" ry="0.75" fill="#1a1a1a"/>
<ellipse cx="418.75" cy="677.05" rx="0.8" ry="0.75" fill="#1a1a1a"/>
<rect x="424.3" y="688.2" width="7.4" height="25.58" fill="#00bf00"/>
<line x1="428" y1="688.2" x2="428" y2="686.4" stroke="#00bf00" stroke-width="1"/>
<line x1="425.9" y1="686.4" x2="430.1" y2="686.4" stroke="#00bf00" stroke-width="1.1"/>
<ellipse cx="427.07" cy="682.85" rx="0.8" ry="0.75" fill="#1a1a1a"/>
<ellipse cx="428.93" cy="682.85" rx="0.8" ry="0.75" fill="#1a1a1a"/>
<text transform="translate(427.15 680.52) scale(0.85 1)" font-family='"Liberation Sans", sans-serif' font-size="3.6" font-weight="bold" font-style="normal" fill="#3a3a3a" stroke="#3a3a3a" stroke-width="0.2" text-rendering="geometricPrecision">#</text>
<rect x="442.82" y="697.8" width="7.4" height="15.98" fill="#0000ff"/>
<line x1="446.52" y1="697.8" x2="446.52" y2="696.4" stroke="#0000ff" stroke-width="1"/>
<line x1="444.42" y1="696.4" x2="448.62" y2="696.4" stroke="#0000ff" stroke-width="1.1"/>
<rect x="453.92" y="687.9" width="7.4" height="25.88" fill="#ff0000"/>
<line x1="457.62" y1="687.9" x2="457.62" y2="685.2" stroke="#ff0000" stroke-width="1"/>
<line x1="455.52" y1="685.2" x2="459.72" y2="685.2" stroke="#ff0000" stroke-width="1.1"/>
<ellipse cx="455.77" cy="682.05" rx="0.8" ry="0.75" fill="#1a1a1a"/>
<ellipse cx="457.62" cy="682.05" rx="0.8" ry="0.75" fill="#1a1a1a"/>
<ellipse cx="459.47" cy="682.05" rx="0.8" ry="0.75" fill="#1a1a1a"/>
<rect x="465.02" y="695.1" width="7.4" height="18.68" fill="#00bf00"/>
<line x1="468.72" y1="695.1" x2="468.72" y2="694.1" stroke="#00bf00" stroke-width="1"/>
<line x1="466.62" y1="694.1" x2="470.82" y2="694.1" stroke="#00bf00" stroke-width="1.1"/>
<text transform="translate(466.16 692.22) scale(0.85 1)" font-family='"Liberation Sans", sans-serif' font-size="3.6" font-weight="bold" font-style="normal" fill="#3a3a3a" stroke="#3a3a3a" stroke-width="0.2" text-rendering="geometricPrecision">###</text>
<rect x="483.54" y="691" width="7.4" height="22.78" fill="#0000ff"/>
<line x1="487.24" y1="691" x2="487.24" y2="689" stroke="#0000ff" stroke-width="1"/>
<line x1="485.14" y1="689" x2="489.34" y2="689" stroke="#0000ff" stroke-width="1.1"/>
<rect x="494.64" y="675" width="7.4" height="38.78" fill="#ff0000"/>
<line x1="498.34" y1="675" x2="498.34" y2="672.1" stroke="#ff0000" stroke-width="1"/>
<line x1="496.24" y1="672.1" x2="500.44" y2="672.1" stroke="#ff0000" stroke-width="1.1"/>
<ellipse cx="496.49" cy="669.05" rx="0.8" ry="0.75" fill="#1a1a1a"/>
<ellipse cx="498.34" cy="669.05" rx="0.8" ry="0.75" fill="#1a1a1a"/>
<ellipse cx="500.19" cy="669.05" rx="0.8" ry="0.75" fill="#1a1a1a"/>
<rect x="505.74" y="681.7" width="7.4" height="32.08" fill="#00bf00"/>
<line x1="509.44" y1="681.7" x2="509.44" y2="677.4" stroke="#00bf00" stroke-width="1"/>
<line x1="507.34" y1="677.4" x2="511.54" y2="677.4" stroke="#00bf00" stroke-width="1.1"/>
<ellipse cx="507.59" cy="674.75" rx="0.8" ry="0.75" fill="#1a1a1a"/>
<ellipse cx="509.44" cy="674.75" rx="0.8" ry="0.75" fill="#1a1a1a"/>
<ellipse cx="511.29" cy="674.75" rx="0.8" ry="0.75" fill="#1a1a1a"/>
<text transform="translate(507.74 672.42) scale(0.85 1)" font-family='"Liberation Sans", sans-serif' font-size="3.6" font-weight="bold" font-style="normal" fill="#3a3a3a" stroke="#3a3a3a" stroke-width="0.2" text-rendering="geometricPrecision">##</text>
<rect x="524.26" y="699.6" width="7.4" height="14.18" fill="#0000ff"/>
<line x1="527.96" y1="699.6" x2="527.96" y2="697.5" stroke="#0000ff" stroke-width="1"/>
<line x1="525.86" y1="697.5" x2="530.06" y2="697.5" stroke="#0000ff" stroke-width="1.1"/>
<rect x="535.36" y="690.8" width="7.4" height="22.98" fill="#ff0000"/>
<line x1="539.06" y1="690.8" x2="539.06" y2="688.1" stroke="#ff0000" stroke-width="1"/>
<line x1="536.96" y1="688.1" x2="541.16" y2="688.1" stroke="#ff0000" stroke-width="1.1"/>
<ellipse cx="537.21" cy="684.95" rx="0.8" ry="0.75" fill="#1a1a1a"/>
<ellipse cx="539.06" cy="684.95" rx="0.8" ry="0.75" fill="#1a1a1a"/>
<ellipse cx="540.91" cy="684.95" rx="0.8" ry="0.75" fill="#1a1a1a"/>
<rect x="546.46" y="692.9" width="7.4" height="20.88" fill="#00bf00"/>
<line x1="550.16" y1="692.9" x2="550.16" y2="690.2" stroke="#00bf00" stroke-width="1"/>
<line x1="548.06" y1="690.2" x2="552.26" y2="690.2" stroke="#00bf00" stroke-width="1.1"/>
<ellipse cx="550.16" cy="687.35" rx="0.8" ry="0.75" fill="#1a1a1a"/>
<rect x="564.98" y="640.4" width="7.4" height="73.38" fill="#0000ff"/>
<line x1="568.68" y1="640.4" x2="568.68" y2="634.9" stroke="#0000ff" stroke-width="1"/>
<line x1="566.58" y1="634.9" x2="570.78" y2="634.9" stroke="#0000ff" stroke-width="1.1"/>
<rect x="576.08" y="600.2" width="7.4" height="113.58" fill="#ff0000"/>
<line x1="579.78" y1="600.2" x2="579.78" y2="591.1" stroke="#ff0000" stroke-width="1"/>
<line x1="577.68" y1="591.1" x2="581.88" y2="591.1" stroke="#ff0000" stroke-width="1.1"/>
<ellipse cx="577.93" cy="587.95" rx="0.8" ry="0.75" fill="#1a1a1a"/>
<ellipse cx="579.78" cy="587.95" rx="0.8" ry="0.75" fill="#1a1a1a"/>
<ellipse cx="581.63" cy="587.95" rx="0.8" ry="0.75" fill="#1a1a1a"/>
<rect x="587.18" y="624.4" width="7.4" height="89.38" fill="#00bf00"/>
<line x1="590.88" y1="624.4" x2="590.88" y2="615.5" stroke="#00bf00" stroke-width="1"/>
<line x1="588.78" y1="615.5" x2="592.98" y2="615.5" stroke="#00bf00" stroke-width="1.1"/>
<ellipse cx="589.03" cy="612.45" rx="0.8" ry="0.75" fill="#1a1a1a"/>
<ellipse cx="590.88" cy="612.45" rx="0.8" ry="0.75" fill="#1a1a1a"/>
<ellipse cx="592.73" cy="612.45" rx="0.8" ry="0.75" fill="#1a1a1a"/>
<text transform="translate(588.32 608.62) scale(0.85 1)" font-family='"Liberation Sans", sans-serif' font-size="3.6" font-weight="bold" font-style="normal" fill="#3a3a3a" stroke="#3a3a3a" stroke-width="0.2" text-rendering="geometricPrecision">###</text>
<line x1="398.4" y1="580.05" x2="398.4" y2="714.43" stroke="#111111" stroke-width="1.3"/>
<line x1="397.75" y1="713.78" x2="599.7" y2="713.78" stroke="#111111" stroke-width="1.3"/>
<line x1="392.9" y1="713.78" x2="398.4" y2="713.78" stroke="#111111" stroke-width="1.3"/>
<text transform="translate(386.89 717.31) scale(0.79 1)" font-family='"Liberation Sans", sans-serif' font-size="10.1" font-weight="bold" font-style="normal" fill="#111111" stroke="#111111" stroke-width="0.35" stroke-linejoin="round" text-rendering="geometricPrecision">0</text>
<line x1="392.9" y1="680.51" x2="398.4" y2="680.51" stroke="#111111" stroke-width="1.3"/>
<text transform="translate(386.89 684.04) scale(0.79 1)" font-family='"Liberation Sans", sans-serif' font-size="10.1" font-weight="bold" font-style="normal" fill="#111111" stroke="#111111" stroke-width="0.35" stroke-linejoin="round" text-rendering="geometricPrecision">2</text>
<line x1="392.9" y1="647.24" x2="398.4" y2="647.24" stroke="#111111" stroke-width="1.3"/>
<text transform="translate(386.61 650.77) scale(0.79 1)" font-family='"Liberation Sans", sans-serif' font-size="10.1" font-weight="bold" font-style="normal" fill="#111111" stroke="#111111" stroke-width="0.35" stroke-linejoin="round" text-rendering="geometricPrecision">4</text>
<line x1="392.9" y1="613.97" x2="398.4" y2="613.97" stroke="#111111" stroke-width="1.3"/>
<text transform="translate(386.85 617.5) scale(0.79 1)" font-family='"Liberation Sans", sans-serif' font-size="10.1" font-weight="bold" font-style="normal" fill="#111111" stroke="#111111" stroke-width="0.35" stroke-linejoin="round" text-rendering="geometricPrecision">6</text>
<line x1="392.9" y1="580.7" x2="398.4" y2="580.7" stroke="#111111" stroke-width="1.3"/>
<text transform="translate(386.81 584.24) scale(0.79 1)" font-family='"Liberation Sans", sans-serif' font-size="10.1" font-weight="bold" font-style="normal" fill="#111111" stroke="#111111" stroke-width="0.35" stroke-linejoin="round" text-rendering="geometricPrecision">8</text>
<line x1="416.9" y1="713.78" x2="416.9" y2="719.28" stroke="#111111" stroke-width="1.3"/>
<text transform="translate(408.25 729.81) scale(0.87 1)" font-family='"Liberation Sans", sans-serif' font-size="9.82" font-weight="bold" font-style="normal" fill="#111111" stroke="#111111" stroke-width="0.35" stroke-linejoin="round" text-rendering="geometricPrecision">GLV</text>
<line x1="457.62" y1="713.78" x2="457.62" y2="719.28" stroke="#111111" stroke-width="1.3"/>
<text transform="translate(448.3 729.81) scale(0.87 1)" font-family='"Liberation Sans", sans-serif' font-size="9.82" font-weight="bold" font-style="normal" fill="#111111" stroke="#111111" stroke-width="0.35" stroke-linejoin="round" text-rendering="geometricPrecision">RHV</text>
<line x1="498.34" y1="713.78" x2="498.34" y2="719.28" stroke="#111111" stroke-width="1.3"/>
<text transform="translate(491.68 729.81) scale(0.87 1)" font-family='"Liberation Sans", sans-serif' font-size="9.82" font-weight="bold" font-style="normal" fill="#111111" stroke="#111111" stroke-width="0.35" stroke-linejoin="round" text-rendering="geometricPrecision">VIT</text>
<line x1="539.06" y1="713.78" x2="539.06" y2="719.28" stroke="#111111" stroke-width="1.3"/>
<text transform="translate(529.99 729.81) scale(0.87 1)" font-family='"Liberation Sans", sans-serif' font-size="9.82" font-weight="bold" font-style="normal" fill="#111111" stroke="#111111" stroke-width="0.35" stroke-linejoin="round" text-rendering="geometricPrecision">RUT</text>
<line x1="579.78" y1="713.78" x2="579.78" y2="719.28" stroke="#111111" stroke-width="1.3"/>
<text transform="translate(573.68 729.81) scale(0.87 1)" font-family='"Liberation Sans", sans-serif' font-size="9.82" font-weight="bold" font-style="normal" fill="#111111" stroke="#111111" stroke-width="0.35" stroke-linejoin="round" text-rendering="geometricPrecision">HP</text>
<rect x="606.2" y="586.6" width="13.4" height="7" fill="#0000ff"/>
<text transform="translate(627.89 593.99) scale(0.86 1)" font-family='"Liberation Sans", sans-serif' font-size="10.8" font-weight="normal" font-style="normal" fill="#1a1a1a" stroke="#1a1a1a" stroke-width="0.12" text-rendering="geometricPrecision">Control</text>
<rect x="606.2" y="602.4" width="13.4" height="7.3" fill="#ff0000"/>
<text transform="translate(628.3 609.94) scale(0.86 1)" font-family='"Liberation Sans", sans-serif' font-size="10.8" font-weight="normal" font-style="normal" fill="#1a1a1a" stroke="#1a1a1a" stroke-width="0.12" text-rendering="geometricPrecision">VP</text>
<rect x="606.2" y="617.9" width="13.4" height="7.4" fill="#00bf00"/>
<text transform="translate(627.58 625.49) scale(0.86 1)" font-family='"Liberation Sans", sans-serif' font-size="10.8" font-weight="normal" font-style="normal" fill="#1a1a1a" stroke="#1a1a1a" stroke-width="0.12" text-rendering="geometricPrecision">DIG</text>
<g transform="translate(333.7 690.2) scale(1 0.972) translate(0 -677.5)"><text transform="translate(32.8 677.35) rotate(-90) scale(0.84 1) skewX(-6)" font-family='"Liberation Sans", sans-serif' font-size="10.5" font-weight="bold" font-style="italic" fill="#111111" stroke="#111111" stroke-width="0.35" stroke-linejoin="round" text-rendering="geometricPrecision">P</text>
<text transform="translate(36 671.49) rotate(-90) scale(0.83 1)" font-family='"Liberation Sans", sans-serif' font-size="7.6" font-weight="bold" font-style="normal" fill="#111111" stroke="#111111" stroke-width="0.35" stroke-linejoin="round" text-rendering="geometricPrecision">app</text>
<text transform="translate(33.1 656.91) rotate(-90) scale(0.8 1)" font-family='"Liberation Sans", sans-serif' font-size="10.3" font-weight="bold" font-style="normal" fill="#111111" stroke="#111111" stroke-width="0.35" stroke-linejoin="round" text-rendering="geometricPrecision">(×</text>
<text transform="translate(33.1 647.72) rotate(-90) scale(0.8 1)" font-family='"Liberation Sans", sans-serif' font-size="10.3" font-weight="bold" font-style="normal" fill="#111111" stroke="#111111" stroke-width="0.35" stroke-linejoin="round" text-rendering="geometricPrecision">10</text>
<text transform="translate(26.2 638.84) rotate(-90) scale(0.8 1)" font-family='"Liberation Sans", sans-serif' font-size="7.4" font-weight="bold" font-style="normal" fill="#111111" stroke="#111111" stroke-width="0.35" stroke-linejoin="round" text-rendering="geometricPrecision">-7</text>
<text transform="translate(33.1 635.1) rotate(-90) scale(0.93 1)" font-family='"Liberation Sans", sans-serif' font-size="10.3" font-weight="bold" font-style="normal" fill="#111111" stroke="#111111" stroke-width="0.35" stroke-linejoin="round" text-rendering="geometricPrecision">/cm·sec</text>
<text transform="translate(27 597.53) rotate(-90) scale(0.8 1)" font-family='"Liberation Sans", sans-serif' font-size="7.2" font-weight="bold" font-style="normal" fill="#111111" stroke="#111111" stroke-width="0.35" stroke-linejoin="round" text-rendering="geometricPrecision">-1</text>
<text transform="translate(33.1 591.82) rotate(-90) scale(0.8 1)" font-family='"Liberation Sans", sans-serif' font-size="10.3" font-weight="bold" font-style="normal" fill="#111111" stroke="#111111" stroke-width="0.35" stroke-linejoin="round" text-rendering="geometricPrecision">)</text></g>
</svg>
</body></html>
